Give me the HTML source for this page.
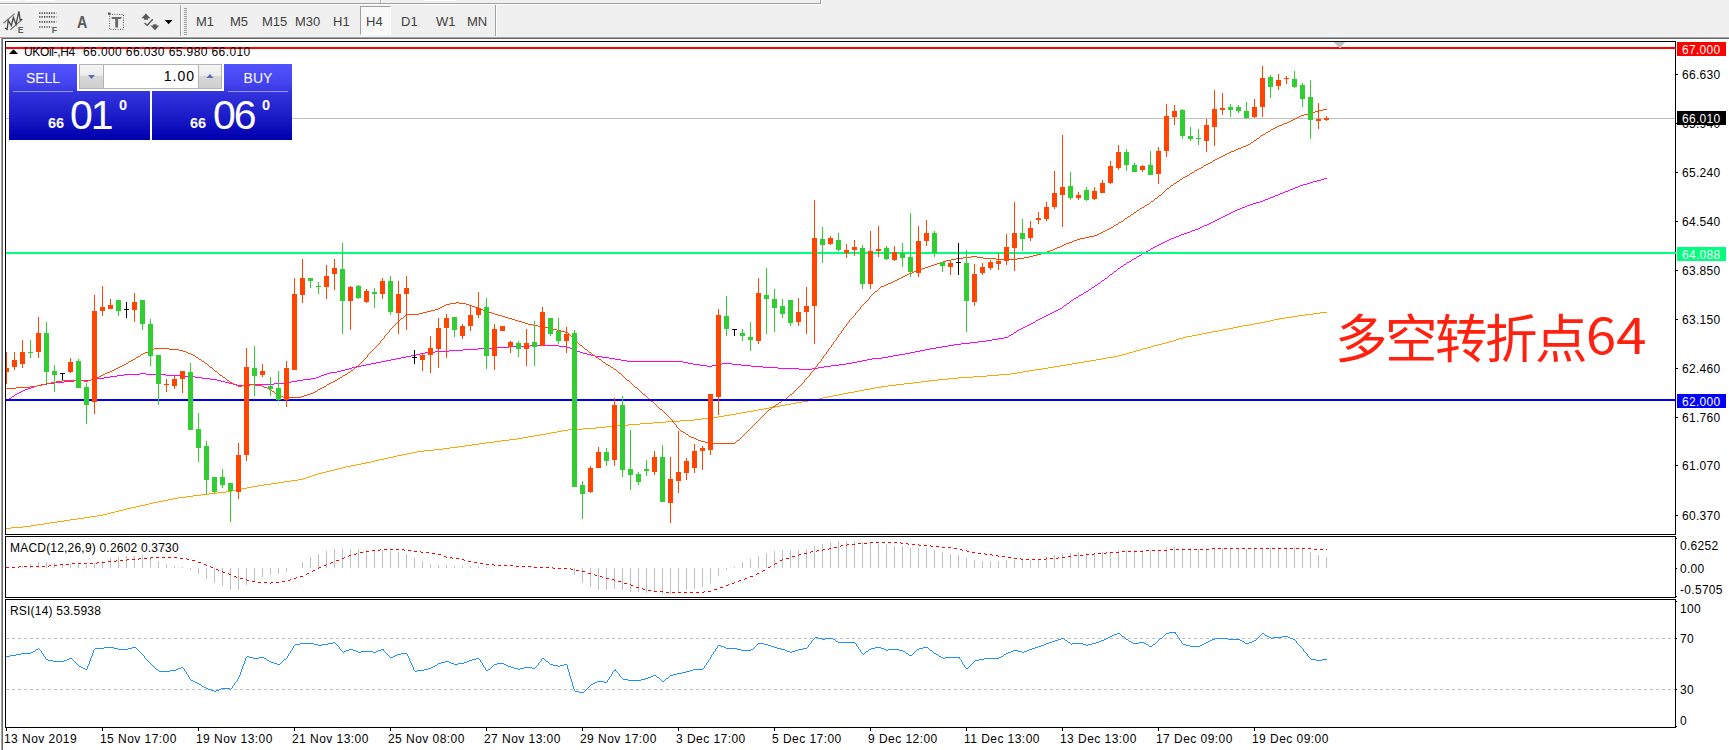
<!DOCTYPE html>
<html><head><meta charset="utf-8"><title>UKOil H4</title>
<style>
html,body{margin:0;padding:0;}
body{width:1729px;height:750px;overflow:hidden;background:#fff;position:relative;font-family:"Liberation Sans","Noto Sans CJK SC",sans-serif;font-size:12px;color:#000;}
#tb{position:absolute;left:0;top:0;width:1729px;height:37px;background:#f0f0f0;}
#tb .ln{position:absolute;}
.tf{position:absolute;top:15px;font-size:13px;color:#404040;line-height:14px;white-space:nowrap;}
#chart{position:absolute;left:0;top:0;}
.pt,.pl,.dt,.tx{position:absolute;white-space:nowrap;letter-spacing:0.3px;line-height:16px;height:16px;font-size:12px;}
.pt{left:1680px;}
.pl{left:1677px;width:44px;padding-left:5px;height:14px;line-height:16px;overflow:hidden;}
.dt{top:731px;letter-spacing:0.45px;}
.tx{letter-spacing:0.2px;}
#oct{position:absolute;left:9px;top:64px;width:283px;height:76px;}
</style></head>
<body>
<div id="tb">
 <div class="ln" style="left:0;top:3px;width:821px;height:1px;background:#a0a0a0"></div>
 <div class="ln" style="left:0;top:4px;width:822px;height:1px;background:#fff"></div>
 <div class="ln" style="left:820px;top:0;width:1px;height:4px;background:#a0a0a0"></div>
 <div class="ln" style="left:821px;top:0;width:1px;height:5px;background:#fff"></div>
 <div class="ln" style="left:0;top:0;width:20px;height:1px;background:#fff"></div>
 <div class="ln" style="left:25px;top:0;width:30px;height:1px;background:#fff"></div>
 <div class="ln" style="left:380px;top:0;width:1px;height:3px;background:#a0a0a0"></div>
 <div class="ln" style="left:381px;top:0;width:1px;height:3px;background:#fff"></div>
 <div class="ln" style="left:424px;top:0;width:32px;height:1px;background:#fff"></div>
 <div class="ln" style="left:180px;top:5px;width:1px;height:32px;background:#a0a0a0"></div>
 <div class="ln" style="left:181px;top:5px;width:1px;height:32px;background:#fff"></div>
 <div class="ln" style="left:495px;top:5px;width:1px;height:32px;background:#a0a0a0"></div>
 <div class="ln" style="left:496px;top:5px;width:1px;height:32px;background:#fff"></div>
 <!-- grip -->
 <div class="ln" style="left:184px;top:8px;width:3px;height:27px;background:repeating-linear-gradient(to bottom,#a0a0a0 0,#a0a0a0 1px,#f0f0f0 1px,#f0f0f0 2px)"></div>
 <!-- H4 pressed -->
 <div class="ln" style="left:360px;top:6px;width:31px;height:29px;background:#f8f8f8;border-left:1px solid #a0a0a0;border-top:1px solid #a0a0a0;border-right:1px solid #fff;border-bottom:1px solid #fff;box-sizing:border-box"></div>
 <span class="tf" style="left:196px">M1</span>
 <span class="tf" style="left:230px">M5</span>
 <span class="tf" style="left:262px">M15</span>
 <span class="tf" style="left:295px">M30</span>
 <span class="tf" style="left:333px">H1</span>
 <span class="tf" style="left:366px">H4</span>
 <span class="tf" style="left:401px">D1</span>
 <span class="tf" style="left:436px">W1</span>
 <span class="tf" style="left:467px">MN</span>
 <svg class="ln" style="left:0;top:0" width="180" height="37" viewBox="0 0 180 37">
  <!-- icon1: channel E -->
  <g stroke="#7a7a7a" stroke-width="1.2" fill="none">
   <line x1="3.5" y1="23.3" x2="14.6" y2="13.6"/>
   <line x1="10.4" y1="29.7" x2="22.4" y2="19.2"/>
   <polyline points="4.9,28 7.2,29.4 8.2,20.3 11.3,25.5 13.4,17.5 16,24.4 18.9,11.4 20.2,20 22,19.2" stroke="#484848" stroke-width="1.3"/>
  </g>
  <text x="17.8" y="32.6" font-size="8.6" font-weight="bold" fill="#5a5a5a" font-family="Liberation Sans, sans-serif">E</text>
  <!-- icon2: fibo F -->
  <g stroke="#484848" stroke-width="1.6" stroke-dasharray="1.2 1.2">
   <line x1="39.2" y1="13.1" x2="56.3" y2="13.1"/>
   <line x1="39.2" y1="16.9" x2="56.3" y2="16.9"/>
   <line x1="39.2" y1="21.9" x2="56.3" y2="21.9"/>
   <line x1="39.2" y1="27" x2="51.5" y2="27"/>
  </g>
  <text x="51.8" y="32.6" font-size="8.6" font-weight="bold" fill="#5a5a5a" font-family="Liberation Sans, sans-serif">F</text>
  <!-- icon3: A -->
  <text transform="translate(76.9,27.5) scale(0.88,1)" font-size="16.2" font-weight="bold" fill="#5a5a5a" font-family="Liberation Sans, sans-serif">A</text>
  <!-- icon4: T label -->
  <rect x="109.6" y="14.4" width="13.8" height="15" fill="none" stroke="#5a5a5a" stroke-width="1" stroke-dasharray="1 1.4"/>
  <rect x="108" y="12.5" width="2.6" height="2.2" fill="#5a5a5a"/>
  <rect x="111.7" y="17" width="9.6" height="2" fill="#6a6a6a"/>
  <rect x="115.2" y="17" width="2.9" height="10.5" fill="#6a6a6a"/>
  <!-- icon5: arrows -->
  <polygon points="145.9,13.6 150.4,18.2 148,18.2 148,19.8 143.9,19.8 143.9,18.2 141.4,18.2" fill="#5a5a5a"/>
  <polyline points="144.5,22.9 147.2,25.3 152.8,19.2" fill="none" stroke="#5a5a5a" stroke-width="1.4"/>
  <polygon points="154.9,30.2 150.5,25.4 153.2,25.4 153.2,24.3 156.6,24.3 156.6,25.4 159.4,25.4" fill="#5a5a5a"/>
  <polygon points="164.8,20 172.4,20 168.6,24.2" fill="#000"/>
 </svg>
</div>
<!-- toolbar bottom edge -->
<div style="position:absolute;left:0;top:36px;width:1729px;height:1px;background:#f6f6f6"></div>
<div style="position:absolute;left:0;top:37px;width:1729px;height:1px;background:#a0a0a0"></div>
<div style="position:absolute;left:1px;top:38px;width:1728px;height:1px;background:#696969"></div>
<!-- left window edge -->
<div style="position:absolute;left:0;top:38px;width:1px;height:712px;background:#fff"></div>
<div style="position:absolute;left:1px;top:38px;width:1px;height:712px;background:#a0a0a0"></div>
<div style="position:absolute;left:2px;top:39px;width:1px;height:711px;background:#696969"></div>

<svg id="chart" width="1729" height="750" viewBox="0 0 1729 750" shape-rendering="crispEdges">
<rect x="6" y="118" width="1669" height="1" fill="#c0c0c0"/>
<path d="M6.5 528v1M7.5 528v1M8.5 528v1M9.5 528v1M10.5 528v1M11.5 527v1M12.5 527v1M13.5 527v1M14.5 527v1M15.5 527v1M16.5 527v1M17.5 527v1M18.5 527v1M19.5 527v1M20.5 527v1M21.5 527v1M22.5 527v1M23.5 526v1M24.5 526v1M25.5 526v1M26.5 526v1M27.5 526v1M28.5 526v1M29.5 526v1M30.5 526v1M31.5 525v1M32.5 525v1M33.5 525v1M34.5 525v1M35.5 525v1M36.5 525v1M37.5 524v1M38.5 524v1M39.5 524v1M40.5 524v1M41.5 524v1M42.5 524v1M43.5 524v1M44.5 523v1M45.5 523v1M46.5 523v1M47.5 523v1M48.5 523v1M49.5 523v1M50.5 522v1M51.5 522v1M52.5 522v1M53.5 522v1M54.5 522v1M55.5 522v1M56.5 522v1M57.5 521v1M58.5 521v1M59.5 521v1M60.5 521v1M61.5 521v1M62.5 521v1M63.5 521v1M64.5 520v1M65.5 520v1M66.5 520v1M67.5 520v1M68.5 520v1M69.5 520v1M70.5 519v1M71.5 519v1M72.5 519v1M73.5 519v1M74.5 519v1M75.5 519v1M76.5 519v1M77.5 518v1M78.5 518v1M79.5 518v1M80.5 518v1M81.5 518v1M82.5 518v1M83.5 518v1M84.5 517v1M85.5 517v1M86.5 517v1M87.5 517v1M88.5 517v1M89.5 517v1M90.5 516v1M91.5 516v1M92.5 516v1M93.5 516v1M94.5 516v1M95.5 516v1M96.5 516v1M97.5 515v1M98.5 515v1M99.5 515v1M100.5 515v1M101.5 515v1M102.5 515v1M103.5 514v1M104.5 514v1M105.5 514v1M106.5 514v1M107.5 513v1M108.5 513v1M109.5 513v1M110.5 513v1M111.5 512v1M112.5 512v1M113.5 512v1M114.5 512v1M115.5 511v1M116.5 511v1M117.5 511v1M118.5 511v1M119.5 510v1M120.5 510v1M121.5 510v1M122.5 510v1M123.5 509v1M124.5 509v1M125.5 509v1M126.5 509v1M127.5 508v1M128.5 508v1M129.5 508v1M130.5 508v1M131.5 507v1M132.5 507v1M133.5 507v1M134.5 507v1M135.5 507v1M136.5 506v1M137.5 506v1M138.5 506v1M139.5 506v1M140.5 505v1M141.5 505v1M142.5 505v1M143.5 505v1M144.5 505v1M145.5 504v1M146.5 504v1M147.5 504v1M148.5 504v1M149.5 503v1M150.5 503v1M151.5 503v1M152.5 503v1M153.5 502v1M154.5 502v1M155.5 502v1M156.5 502v1M157.5 502v1M158.5 501v1M159.5 501v1M160.5 501v1M161.5 501v1M162.5 501v1M163.5 500v1M164.5 500v1M165.5 500v1M166.5 500v1M167.5 500v1M168.5 499v1M169.5 499v1M170.5 499v1M171.5 499v1M172.5 499v1M173.5 498v1M174.5 498v1M175.5 498v1M176.5 498v1M177.5 498v1M178.5 497v1M179.5 497v1M180.5 497v1M181.5 497v1M182.5 497v1M183.5 497v1M184.5 497v1M185.5 497v1M186.5 496v1M187.5 496v1M188.5 496v1M189.5 496v1M190.5 496v1M191.5 496v1M192.5 496v1M193.5 495v1M194.5 495v1M195.5 495v1M196.5 495v1M197.5 495v1M198.5 495v1M199.5 495v1M200.5 495v1M201.5 494v1M202.5 494v1M203.5 494v1M204.5 494v1M205.5 494v1M206.5 494v1M207.5 494v1M208.5 494v1M209.5 493v1M210.5 493v1M211.5 493v1M212.5 493v1M213.5 493v1M214.5 493v1M215.5 493v1M216.5 493v1M217.5 492v1M218.5 492v1M219.5 492v1M220.5 492v1M221.5 492v1M222.5 492v1M223.5 492v1M224.5 492v1M225.5 492v1M226.5 491v1M227.5 491v1M228.5 491v1M229.5 491v1M230.5 491v1M231.5 491v1M232.5 490v1M233.5 490v1M234.5 490v1M235.5 490v1M236.5 490v1M237.5 489v1M238.5 489v1M239.5 489v1M240.5 489v1M241.5 489v1M242.5 488v1M243.5 488v1M244.5 488v1M245.5 488v1M246.5 488v1M247.5 487v1M248.5 487v1M249.5 487v1M250.5 487v1M251.5 487v1M252.5 486v1M253.5 486v1M254.5 486v1M255.5 486v1M256.5 486v1M257.5 486v1M258.5 485v1M259.5 485v1M260.5 485v1M261.5 485v1M262.5 485v1M263.5 485v1M264.5 484v1M265.5 484v1M266.5 484v1M267.5 484v1M268.5 484v1M269.5 484v1M270.5 484v1M271.5 483v1M272.5 483v1M273.5 483v1M274.5 483v1M275.5 483v1M276.5 483v1M277.5 483v1M278.5 482v1M279.5 482v1M280.5 482v1M281.5 482v1M282.5 482v1M283.5 482v1M284.5 481v1M285.5 481v1M286.5 481v1M287.5 481v1M288.5 481v1M289.5 481v1M290.5 481v1M291.5 480v1M292.5 480v1M293.5 480v1M294.5 480v1M295.5 480v1M296.5 480v1M297.5 480v1M298.5 479v1M299.5 479v1M300.5 479v1M301.5 479v1M302.5 479v1M303.5 478v1M304.5 478v1M305.5 478v1M306.5 477v1M307.5 477v1M308.5 477v1M309.5 476v1M310.5 476v1M311.5 476v1M312.5 475v1M313.5 475v1M314.5 475v1M315.5 474v1M316.5 474v1M317.5 474v1M318.5 473v1M319.5 473v1M320.5 473v1M321.5 473v1M322.5 472v1M323.5 472v1M324.5 472v1M325.5 472v1M326.5 471v1M327.5 471v1M328.5 471v1M329.5 471v1M330.5 470v1M331.5 470v1M332.5 470v1M333.5 470v1M334.5 469v1M335.5 469v1M336.5 469v1M337.5 469v1M338.5 468v1M339.5 468v1M340.5 468v1M341.5 468v1M342.5 467v1M343.5 467v1M344.5 467v1M345.5 467v1M346.5 466v1M347.5 466v1M348.5 466v1M349.5 466v1M350.5 466v1M351.5 465v1M352.5 465v1M353.5 465v1M354.5 465v1M355.5 465v1M356.5 464v1M357.5 464v1M358.5 464v1M359.5 464v1M360.5 464v1M361.5 463v1M362.5 463v1M363.5 463v1M364.5 463v1M365.5 463v1M366.5 462v1M367.5 462v1M368.5 462v1M369.5 462v1M370.5 462v1M371.5 461v1M372.5 461v1M373.5 461v1M374.5 461v1M375.5 460v1M376.5 460v1M377.5 460v1M378.5 460v1M379.5 459v1M380.5 459v1M381.5 459v1M382.5 459v1M383.5 459v1M384.5 458v1M385.5 458v1M386.5 458v1M387.5 458v1M388.5 457v1M389.5 457v1M390.5 457v1M391.5 457v1M392.5 457v1M393.5 456v1M394.5 456v1M395.5 456v1M396.5 456v1M397.5 455v1M398.5 455v1M399.5 455v1M400.5 455v1M401.5 455v1M402.5 454v1M403.5 454v1M404.5 454v1M405.5 454v1M406.5 454v1M407.5 453v1M408.5 453v1M409.5 453v1M410.5 453v1M411.5 453v1M412.5 452v1M413.5 452v1M414.5 452v1M415.5 452v1M416.5 452v1M417.5 451v1M418.5 451v1M419.5 451v1M420.5 451v1M421.5 451v1M422.5 451v1M423.5 451v1M424.5 450v1M425.5 450v1M426.5 450v1M427.5 450v1M428.5 450v1M429.5 450v1M430.5 450v1M431.5 450v1M432.5 450v1M433.5 450v1M434.5 449v1M435.5 449v1M436.5 449v1M437.5 449v1M438.5 449v1M439.5 449v1M440.5 449v1M441.5 449v1M442.5 449v1M443.5 448v1M444.5 448v1M445.5 448v1M446.5 448v1M447.5 448v1M448.5 448v1M449.5 448v1M450.5 447v1M451.5 447v1M452.5 447v1M453.5 447v1M454.5 447v1M455.5 447v1M456.5 447v1M457.5 447v1M458.5 446v1M459.5 446v1M460.5 446v1M461.5 446v1M462.5 446v1M463.5 446v1M464.5 446v1M465.5 445v1M466.5 445v1M467.5 445v1M468.5 445v1M469.5 445v1M470.5 445v1M471.5 445v1M472.5 444v1M473.5 444v1M474.5 444v1M475.5 444v1M476.5 444v1M477.5 444v1M478.5 444v1M479.5 443v1M480.5 443v1M481.5 443v1M482.5 443v1M483.5 443v1M484.5 443v1M485.5 443v1M486.5 442v1M487.5 442v1M488.5 442v1M489.5 442v1M490.5 442v1M491.5 442v1M492.5 442v1M493.5 442v1M494.5 441v1M495.5 441v1M496.5 441v1M497.5 441v1M498.5 441v1M499.5 441v1M500.5 441v1M501.5 440v1M502.5 440v1M503.5 440v1M504.5 440v1M505.5 440v1M506.5 440v1M507.5 440v1M508.5 440v1M509.5 439v1M510.5 439v1M511.5 439v1M512.5 439v1M513.5 439v1M514.5 439v1M515.5 439v1M516.5 439v1M517.5 438v1M518.5 438v1M519.5 438v1M520.5 438v1M521.5 438v1M522.5 438v1M523.5 437v1M524.5 437v1M525.5 437v1M526.5 437v1M527.5 437v1M528.5 436v1M529.5 436v1M530.5 436v1M531.5 436v1M532.5 436v1M533.5 436v1M534.5 435v1M535.5 435v1M536.5 435v1M537.5 435v1M538.5 435v1M539.5 435v1M540.5 434v1M541.5 434v1M542.5 434v1M543.5 434v1M544.5 434v1M545.5 434v1M546.5 433v1M547.5 433v1M548.5 433v1M549.5 433v1M550.5 433v1M551.5 432v1M552.5 432v1M553.5 432v1M554.5 432v1M555.5 432v1M556.5 432v1M557.5 431v1M558.5 431v1M559.5 431v1M560.5 431v1M561.5 431v1M562.5 430v1M563.5 430v1M564.5 430v1M565.5 430v1M566.5 430v1M567.5 430v1M568.5 429v1M569.5 429v1M570.5 429v1M571.5 429v1M572.5 429v1M573.5 429v1M574.5 429v1M575.5 429v1M576.5 429v1M577.5 429v1M578.5 429v1M579.5 429v1M580.5 429v1M581.5 429v1M582.5 429v1M583.5 428v1M584.5 428v1M585.5 428v1M586.5 428v1M587.5 428v1M588.5 428v1M589.5 428v1M590.5 428v1M591.5 428v1M592.5 428v1M593.5 428v1M594.5 428v1M595.5 428v1M596.5 427v1M597.5 427v1M598.5 427v1M599.5 427v1M600.5 427v1M601.5 427v1M602.5 427v1M603.5 427v1M604.5 427v1M605.5 427v1M606.5 426v1M607.5 426v1M608.5 426v1M609.5 426v1M610.5 426v1M611.5 426v1M612.5 426v1M613.5 426v1M614.5 426v1M615.5 426v1M616.5 425v1M617.5 425v1M618.5 425v1M619.5 425v1M620.5 425v1M621.5 425v1M622.5 425v1M623.5 425v1M624.5 425v1M625.5 425v1M626.5 425v1M627.5 425v1M628.5 424v1M629.5 424v1M630.5 424v1M631.5 424v1M632.5 424v1M633.5 424v1M634.5 424v1M635.5 424v1M636.5 424v1M637.5 424v1M638.5 424v1M639.5 424v1M640.5 423v1M641.5 423v1M642.5 423v1M643.5 423v1M644.5 423v1M645.5 423v1M646.5 423v1M647.5 423v1M648.5 423v1M649.5 423v1M650.5 423v1M651.5 423v1M652.5 423v1M653.5 422v1M654.5 422v1M655.5 422v1M656.5 422v1M657.5 422v1M658.5 422v1M659.5 422v1M660.5 422v1M661.5 422v1M662.5 422v1M663.5 422v1M664.5 422v1M665.5 422v1M666.5 421v1M667.5 421v1M668.5 421v1M669.5 421v1M670.5 421v1M671.5 421v1M672.5 421v1M673.5 421v1M674.5 421v1M675.5 421v1M676.5 421v1M677.5 421v1M678.5 421v1M679.5 421v1M680.5 420v1M681.5 420v1M682.5 420v1M683.5 420v1M684.5 420v1M685.5 420v1M686.5 420v1M687.5 420v1M688.5 420v1M689.5 420v1M690.5 420v1M691.5 420v1M692.5 420v1M693.5 420v1M694.5 419v1M695.5 419v1M696.5 419v1M697.5 419v1M698.5 419v1M699.5 419v1M700.5 419v1M701.5 419v1M702.5 418v1M703.5 418v1M704.5 418v1M705.5 418v1M706.5 418v1M707.5 418v1M708.5 418v1M709.5 418v1M710.5 417v1M711.5 417v1M712.5 417v1M713.5 417v1M714.5 417v1M715.5 417v1M716.5 417v1M717.5 417v1M718.5 416v1M719.5 416v1M720.5 416v1M721.5 416v1M722.5 416v1M723.5 416v1M724.5 415v1M725.5 415v1M726.5 415v1M727.5 415v1M728.5 415v1M729.5 415v1M730.5 414v1M731.5 414v1M732.5 414v1M733.5 414v1M734.5 414v1M735.5 414v1M736.5 413v1M737.5 413v1M738.5 413v1M739.5 413v1M740.5 413v1M741.5 412v1M742.5 412v1M743.5 412v1M744.5 412v1M745.5 412v1M746.5 412v1M747.5 411v1M748.5 411v1M749.5 411v1M750.5 411v1M751.5 411v1M752.5 411v1M753.5 410v1M754.5 410v1M755.5 410v1M756.5 410v1M757.5 410v1M758.5 409v1M759.5 409v1M760.5 409v1M761.5 409v1M762.5 409v1M763.5 409v1M764.5 408v1M765.5 408v1M766.5 408v1M767.5 408v1M768.5 408v1M769.5 407v1M770.5 407v1M771.5 407v1M772.5 407v1M773.5 407v1M774.5 407v1M775.5 406v1M776.5 406v1M777.5 406v1M778.5 406v1M779.5 406v1M780.5 405v1M781.5 405v1M782.5 405v1M783.5 405v1M784.5 405v1M785.5 404v1M786.5 404v1M787.5 404v1M788.5 404v1M789.5 404v1M790.5 404v1M791.5 403v1M792.5 403v1M793.5 403v1M794.5 403v1M795.5 403v1M796.5 402v1M797.5 402v1M798.5 402v1M799.5 402v1M800.5 402v1M801.5 402v1M802.5 401v1M803.5 401v1M804.5 401v1M805.5 401v1M806.5 401v1M807.5 401v1M808.5 400v1M809.5 400v1M810.5 400v1M811.5 400v1M812.5 400v1M813.5 400v1M814.5 399v1M815.5 399v1M816.5 399v1M817.5 399v1M818.5 399v1M819.5 398v1M820.5 398v1M821.5 398v1M822.5 398v1M823.5 397v1M824.5 397v1M825.5 397v1M826.5 397v1M827.5 397v1M828.5 396v1M829.5 396v1M830.5 396v1M831.5 396v1M832.5 396v1M833.5 395v1M834.5 395v1M835.5 395v1M836.5 395v1M837.5 395v1M838.5 394v1M839.5 394v1M840.5 394v1M841.5 394v1M842.5 394v1M843.5 393v1M844.5 393v1M845.5 393v1M846.5 393v1M847.5 393v1M848.5 392v1M849.5 392v1M850.5 392v1M851.5 392v1M852.5 392v1M853.5 392v1M854.5 391v1M855.5 391v1M856.5 391v1M857.5 391v1M858.5 391v1M859.5 390v1M860.5 390v1M861.5 390v1M862.5 390v1M863.5 390v1M864.5 389v1M865.5 389v1M866.5 389v1M867.5 389v1M868.5 389v1M869.5 389v1M870.5 388v1M871.5 388v1M872.5 388v1M873.5 388v1M874.5 388v1M875.5 387v1M876.5 387v1M877.5 387v1M878.5 387v1M879.5 387v1M880.5 387v1M881.5 386v1M882.5 386v1M883.5 386v1M884.5 386v1M885.5 386v1M886.5 386v1M887.5 386v1M888.5 385v1M889.5 385v1M890.5 385v1M891.5 385v1M892.5 385v1M893.5 385v1M894.5 385v1M895.5 385v1M896.5 384v1M897.5 384v1M898.5 384v1M899.5 384v1M900.5 384v1M901.5 384v1M902.5 384v1M903.5 384v1M904.5 383v1M905.5 383v1M906.5 383v1M907.5 383v1M908.5 383v1M909.5 383v1M910.5 383v1M911.5 383v1M912.5 383v1M913.5 382v1M914.5 382v1M915.5 382v1M916.5 382v1M917.5 382v1M918.5 382v1M919.5 382v1M920.5 382v1M921.5 381v1M922.5 381v1M923.5 381v1M924.5 381v1M925.5 381v1M926.5 381v1M927.5 381v1M928.5 381v1M929.5 380v1M930.5 380v1M931.5 380v1M932.5 380v1M933.5 380v1M934.5 380v1M935.5 380v1M936.5 380v1M937.5 380v1M938.5 379v1M939.5 379v1M940.5 379v1M941.5 379v1M942.5 379v1M943.5 379v1M944.5 379v1M945.5 379v1M946.5 379v1M947.5 379v1M948.5 378v1M949.5 378v1M950.5 378v1M951.5 378v1M952.5 378v1M953.5 378v1M954.5 378v1M955.5 378v1M956.5 378v1M957.5 378v1M958.5 377v1M959.5 377v1M960.5 377v1M961.5 377v1M962.5 377v1M963.5 377v1M964.5 377v1M965.5 377v1M966.5 377v1M967.5 377v1M968.5 377v1M969.5 377v1M970.5 377v1M971.5 377v1M972.5 377v1M973.5 376v1M974.5 376v1M975.5 376v1M976.5 376v1M977.5 376v1M978.5 376v1M979.5 376v1M980.5 376v1M981.5 376v1M982.5 376v1M983.5 376v1M984.5 376v1M985.5 376v1M986.5 376v1M987.5 375v1M988.5 375v1M989.5 375v1M990.5 375v1M991.5 375v1M992.5 375v1M993.5 375v1M994.5 375v1M995.5 375v1M996.5 375v1M997.5 375v1M998.5 375v1M999.5 374v1M1000.5 374v1M1001.5 374v1M1002.5 374v1M1003.5 374v1M1004.5 374v1M1005.5 374v1M1006.5 374v1M1007.5 374v1M1008.5 374v1M1009.5 374v1M1010.5 374v1M1011.5 373v1M1012.5 373v1M1013.5 373v1M1014.5 373v1M1015.5 373v1M1016.5 373v1M1017.5 372v1M1018.5 372v1M1019.5 372v1M1020.5 372v1M1021.5 372v1M1022.5 372v1M1023.5 371v1M1024.5 371v1M1025.5 371v1M1026.5 371v1M1027.5 371v1M1028.5 371v1M1029.5 370v1M1030.5 370v1M1031.5 370v1M1032.5 370v1M1033.5 370v1M1034.5 370v1M1035.5 369v1M1036.5 369v1M1037.5 369v1M1038.5 369v1M1039.5 369v1M1040.5 369v1M1041.5 369v1M1042.5 368v1M1043.5 368v1M1044.5 368v1M1045.5 368v1M1046.5 368v1M1047.5 368v1M1048.5 367v1M1049.5 367v1M1050.5 367v1M1051.5 367v1M1052.5 367v1M1053.5 367v1M1054.5 366v1M1055.5 366v1M1056.5 366v1M1057.5 366v1M1058.5 366v1M1059.5 366v1M1060.5 365v1M1061.5 365v1M1062.5 365v1M1063.5 365v1M1064.5 365v1M1065.5 365v1M1066.5 364v1M1067.5 364v1M1068.5 364v1M1069.5 364v1M1070.5 364v1M1071.5 364v1M1072.5 363v1M1073.5 363v1M1074.5 363v1M1075.5 363v1M1076.5 363v1M1077.5 363v1M1078.5 362v1M1079.5 362v1M1080.5 362v1M1081.5 362v1M1082.5 362v1M1083.5 362v1M1084.5 361v1M1085.5 361v1M1086.5 361v1M1087.5 361v1M1088.5 361v1M1089.5 361v1M1090.5 360v1M1091.5 360v1M1092.5 360v1M1093.5 360v1M1094.5 360v1M1095.5 360v1M1096.5 359v1M1097.5 359v1M1098.5 359v1M1099.5 359v1M1100.5 359v1M1101.5 359v1M1102.5 358v1M1103.5 358v1M1104.5 358v1M1105.5 358v1M1106.5 358v1M1107.5 357v1M1108.5 357v1M1109.5 357v1M1110.5 357v1M1111.5 357v1M1112.5 357v1M1113.5 356v1M1114.5 356v1M1115.5 356v1M1116.5 356v1M1117.5 356v1M1118.5 355v1M1119.5 355v1M1120.5 355v1M1121.5 355v1M1122.5 354v1M1123.5 354v1M1124.5 354v1M1125.5 354v1M1126.5 353v1M1127.5 353v1M1128.5 353v1M1129.5 352v1M1130.5 352v1M1131.5 352v1M1132.5 352v1M1133.5 351v1M1134.5 351v1M1135.5 351v1M1136.5 350v1M1137.5 350v1M1138.5 350v1M1139.5 350v1M1140.5 349v1M1141.5 349v1M1142.5 349v1M1143.5 348v1M1144.5 348v1M1145.5 348v1M1146.5 348v1M1147.5 347v1M1148.5 347v1M1149.5 347v1M1150.5 347v1M1151.5 346v1M1152.5 346v1M1153.5 346v1M1154.5 345v1M1155.5 345v1M1156.5 345v1M1157.5 345v1M1158.5 344v1M1159.5 344v1M1160.5 344v1M1161.5 344v1M1162.5 343v1M1163.5 343v1M1164.5 343v1M1165.5 343v1M1166.5 342v1M1167.5 342v1M1168.5 342v1M1169.5 341v1M1170.5 341v1M1171.5 341v1M1172.5 341v1M1173.5 340v1M1174.5 340v1M1175.5 340v1M1176.5 339v1M1177.5 339v1M1178.5 339v1M1179.5 338v1M1180.5 338v1M1181.5 338v1M1182.5 338v1M1183.5 337v1M1184.5 337v1M1185.5 337v1M1186.5 336v1M1187.5 336v1M1188.5 336v1M1189.5 336v1M1190.5 336v1M1191.5 336v1M1192.5 335v1M1193.5 335v1M1194.5 335v1M1195.5 335v1M1196.5 335v1M1197.5 334v1M1198.5 334v1M1199.5 334v1M1200.5 334v1M1201.5 334v1M1202.5 333v1M1203.5 333v1M1204.5 333v1M1205.5 333v1M1206.5 333v1M1207.5 332v1M1208.5 332v1M1209.5 332v1M1210.5 332v1M1211.5 332v1M1212.5 331v1M1213.5 331v1M1214.5 331v1M1215.5 331v1M1216.5 331v1M1217.5 331v1M1218.5 330v1M1219.5 330v1M1220.5 330v1M1221.5 330v1M1222.5 330v1M1223.5 329v1M1224.5 329v1M1225.5 329v1M1226.5 329v1M1227.5 329v1M1228.5 328v1M1229.5 328v1M1230.5 328v1M1231.5 328v1M1232.5 328v1M1233.5 327v1M1234.5 327v1M1235.5 327v1M1236.5 327v1M1237.5 327v1M1238.5 326v1M1239.5 326v1M1240.5 326v1M1241.5 326v1M1242.5 326v1M1243.5 325v1M1244.5 325v1M1245.5 325v1M1246.5 325v1M1247.5 325v1M1248.5 325v1M1249.5 324v1M1250.5 324v1M1251.5 324v1M1252.5 324v1M1253.5 324v1M1254.5 323v1M1255.5 323v1M1256.5 323v1M1257.5 323v1M1258.5 323v1M1259.5 323v1M1260.5 322v1M1261.5 322v1M1262.5 322v1M1263.5 322v1M1264.5 322v1M1265.5 321v1M1266.5 321v1M1267.5 321v1M1268.5 321v1M1269.5 321v1M1270.5 320v1M1271.5 320v1M1272.5 320v1M1273.5 320v1M1274.5 319v1M1275.5 319v1M1276.5 319v1M1277.5 319v1M1278.5 319v1M1279.5 318v1M1280.5 318v1M1281.5 318v1M1282.5 318v1M1283.5 318v1M1284.5 318v1M1285.5 317v1M1286.5 317v1M1287.5 317v1M1288.5 317v1M1289.5 317v1M1290.5 317v1M1291.5 317v1M1292.5 316v1M1293.5 316v1M1294.5 316v1M1295.5 316v1M1296.5 316v1M1297.5 316v1M1298.5 315v1M1299.5 315v1M1300.5 315v1M1301.5 315v1M1302.5 315v1M1303.5 315v1M1304.5 315v1M1305.5 314v1M1306.5 314v1M1307.5 314v1M1308.5 314v1M1309.5 314v1M1310.5 314v1M1311.5 314v1M1312.5 314v1M1313.5 313v1M1314.5 313v1M1315.5 313v1M1316.5 313v1M1317.5 313v1M1318.5 313v1M1319.5 313v1M1320.5 312v1M1321.5 312v1M1322.5 312v1M1323.5 312v1M1324.5 312v1M1325.5 312v1M1326.5 312v1" stroke="#ffa500" stroke-width="1" fill="none"/>
<path d="M6.5 400v1M7.5 399v1M8.5 399v1M9.5 398v1M10.5 398v1M11.5 397v1M12.5 396v1M13.5 396v1M14.5 395v1M15.5 394v1M16.5 394v1M17.5 393v1M18.5 393v1M19.5 392v1M20.5 392v1M21.5 391v1M22.5 391v1M23.5 390v1M24.5 390v1M25.5 389v1M26.5 389v1M27.5 389v1M28.5 388v1M29.5 388v1M30.5 388v1M31.5 387v1M32.5 387v1M33.5 387v1M34.5 386v1M35.5 386v1M36.5 386v1M37.5 385v1M38.5 385v1M39.5 385v1M40.5 385v1M41.5 384v1M42.5 384v1M43.5 384v1M44.5 384v1M45.5 384v1M46.5 384v1M47.5 383v1M48.5 383v1M49.5 383v1M50.5 383v1M51.5 383v1M52.5 383v1M53.5 383v1M54.5 382v1M55.5 382v1M56.5 382v1M57.5 382v1M58.5 382v1M59.5 382v1M60.5 382v1M61.5 382v1M62.5 382v1M63.5 382v1M64.5 381v1M65.5 381v1M66.5 381v1M67.5 381v1M68.5 381v1M69.5 381v1M70.5 381v1M71.5 381v1M72.5 381v1M73.5 381v1M74.5 380v1M75.5 380v1M76.5 380v1M77.5 380v1M78.5 380v1M79.5 380v1M80.5 380v1M81.5 380v1M82.5 380v1M83.5 380v1M84.5 380v1M85.5 380v1M86.5 380v1M87.5 380v1M88.5 380v1M89.5 380v1M90.5 380v1M91.5 379v1M92.5 379v1M93.5 379v1M94.5 379v1M95.5 379v1M96.5 379v1M97.5 378v1M98.5 378v1M99.5 378v1M100.5 378v1M101.5 378v1M102.5 378v1M103.5 378v1M104.5 377v1M105.5 377v1M106.5 377v1M107.5 377v1M108.5 377v1M109.5 377v1M110.5 376v1M111.5 376v1M112.5 376v1M113.5 376v1M114.5 376v1M115.5 376v1M116.5 376v1M117.5 375v1M118.5 375v1M119.5 375v1M120.5 375v1M121.5 375v1M122.5 375v1M123.5 375v1M124.5 374v1M125.5 374v1M126.5 374v1M127.5 374v1M128.5 374v1M129.5 374v1M130.5 374v1M131.5 374v1M132.5 374v1M133.5 374v1M134.5 374v1M135.5 374v1M136.5 374v1M137.5 374v1M138.5 374v1M139.5 374v1M140.5 373v1M141.5 373v1M142.5 373v1M143.5 373v1M144.5 373v1M145.5 373v1M146.5 374v1M147.5 374v1M148.5 374v1M149.5 374v1M150.5 374v1M151.5 374v1M152.5 374v1M153.5 374v1M154.5 374v1M155.5 374v1M156.5 374v1M157.5 374v1M158.5 374v1M159.5 374v1M160.5 374v1M161.5 374v1M162.5 374v1M163.5 374v1M164.5 374v1M165.5 374v1M166.5 375v1M167.5 375v1M168.5 375v1M169.5 375v1M170.5 375v1M171.5 375v1M172.5 375v1M173.5 375v1M174.5 375v1M175.5 375v1M176.5 375v1M177.5 375v1M178.5 375v1M179.5 375v1M180.5 375v1M181.5 375v1M182.5 375v1M183.5 376v1M184.5 376v1M185.5 376v1M186.5 376v1M187.5 376v1M188.5 376v1M189.5 376v1M190.5 376v1M191.5 376v1M192.5 376v1M193.5 376v1M194.5 376v1M195.5 377v1M196.5 377v1M197.5 377v1M198.5 377v1M199.5 377v1M200.5 377v1M201.5 377v1M202.5 378v1M203.5 378v1M204.5 378v1M205.5 378v1M206.5 378v1M207.5 378v1M208.5 378v1M209.5 378v1M210.5 379v1M211.5 379v1M212.5 379v1M213.5 379v1M214.5 379v1M215.5 379v1M216.5 379v1M217.5 380v1M218.5 380v1M219.5 380v1M220.5 380v1M221.5 381v1M222.5 381v1M223.5 381v1M224.5 381v1M225.5 382v1M226.5 382v1M227.5 382v1M228.5 382v1M229.5 383v1M230.5 383v1M231.5 383v1M232.5 383v1M233.5 384v1M234.5 384v1M235.5 384v1M236.5 384v1M237.5 385v1M238.5 385v1M239.5 385v1M240.5 385v1M241.5 385v1M242.5 385v1M243.5 385v1M244.5 385v1M245.5 385v1M246.5 385v1M247.5 385v1M248.5 385v1M249.5 385v1M250.5 384v1M251.5 384v1M252.5 384v1M253.5 384v1M254.5 384v1M255.5 384v1M256.5 384v1M257.5 384v1M258.5 384v1M259.5 384v1M260.5 384v1M261.5 384v1M262.5 384v1M263.5 384v1M264.5 384v1M265.5 384v1M266.5 384v1M267.5 384v1M268.5 384v1M269.5 384v1M270.5 384v1M271.5 384v1M272.5 384v1M273.5 384v1M274.5 383v1M275.5 383v1M276.5 383v1M277.5 383v1M278.5 383v1M279.5 383v1M280.5 383v1M281.5 383v1M282.5 383v1M283.5 383v1M284.5 383v1M285.5 382v1M286.5 382v1M287.5 382v1M288.5 382v1M289.5 382v1M290.5 382v1M291.5 381v1M292.5 381v1M293.5 381v1M294.5 381v1M295.5 381v1M296.5 381v1M297.5 380v1M298.5 380v1M299.5 380v1M300.5 380v1M301.5 380v1M302.5 380v1M303.5 379v1M304.5 379v1M305.5 379v1M306.5 379v1M307.5 379v1M308.5 379v1M309.5 379v1M310.5 379v1M311.5 378v1M312.5 378v1M313.5 378v1M314.5 378v1M315.5 378v1M316.5 377v1M317.5 377v1M318.5 377v1M319.5 376v1M320.5 376v1M321.5 375v1M322.5 375v1M323.5 375v1M324.5 374v1M325.5 374v1M326.5 374v1M327.5 373v1M328.5 373v1M329.5 373v1M330.5 372v1M331.5 372v1M332.5 372v1M333.5 372v1M334.5 372v1M335.5 372v1M336.5 372v1M337.5 371v1M338.5 371v1M339.5 371v1M340.5 371v1M341.5 370v1M342.5 370v1M343.5 370v1M344.5 370v1M345.5 369v1M346.5 369v1M347.5 369v1M348.5 369v1M349.5 368v1M350.5 368v1M351.5 368v1M352.5 367v1M353.5 367v1M354.5 367v1M355.5 367v1M356.5 366v1M357.5 366v1M358.5 366v1M359.5 366v1M360.5 366v1M361.5 365v1M362.5 365v1M363.5 365v1M364.5 365v1M365.5 365v1M366.5 364v1M367.5 364v1M368.5 364v1M369.5 364v1M370.5 364v1M371.5 363v1M372.5 363v1M373.5 363v1M374.5 363v1M375.5 363v1M376.5 362v1M377.5 362v1M378.5 362v1M379.5 362v1M380.5 362v1M381.5 361v1M382.5 361v1M383.5 361v1M384.5 361v1M385.5 361v1M386.5 360v1M387.5 360v1M388.5 360v1M389.5 360v1M390.5 360v1M391.5 359v1M392.5 359v1M393.5 359v1M394.5 359v1M395.5 359v1M396.5 358v1M397.5 358v1M398.5 358v1M399.5 358v1M400.5 358v1M401.5 357v1M402.5 357v1M403.5 357v1M404.5 357v1M405.5 357v1M406.5 356v1M407.5 356v1M408.5 356v1M409.5 356v1M410.5 356v1M411.5 355v1M412.5 355v1M413.5 355v1M414.5 355v1M415.5 355v1M416.5 354v1M417.5 354v1M418.5 354v1M419.5 354v1M420.5 353v1M421.5 353v1M422.5 353v1M423.5 353v1M424.5 353v1M425.5 352v1M426.5 352v1M427.5 352v1M428.5 352v1M429.5 352v1M430.5 352v1M431.5 352v1M432.5 352v1M433.5 352v1M434.5 352v1M435.5 351v1M436.5 351v1M437.5 351v1M438.5 351v1M439.5 351v1M440.5 351v1M441.5 351v1M442.5 351v1M443.5 351v1M444.5 351v1M445.5 351v1M446.5 351v1M447.5 351v1M448.5 351v1M449.5 350v1M450.5 350v1M451.5 350v1M452.5 350v1M453.5 350v1M454.5 350v1M455.5 350v1M456.5 350v1M457.5 350v1M458.5 350v1M459.5 350v1M460.5 350v1M461.5 350v1M462.5 350v1M463.5 349v1M464.5 349v1M465.5 349v1M466.5 349v1M467.5 349v1M468.5 349v1M469.5 349v1M470.5 349v1M471.5 349v1M472.5 349v1M473.5 349v1M474.5 349v1M475.5 349v1M476.5 349v1M477.5 349v1M478.5 348v1M479.5 348v1M480.5 348v1M481.5 348v1M482.5 348v1M483.5 348v1M484.5 348v1M485.5 348v1M486.5 348v1M487.5 348v1M488.5 348v1M489.5 348v1M490.5 348v1M491.5 348v1M492.5 348v1M493.5 347v1M494.5 347v1M495.5 347v1M496.5 347v1M497.5 347v1M498.5 347v1M499.5 347v1M500.5 347v1M501.5 347v1M502.5 347v1M503.5 347v1M504.5 347v1M505.5 347v1M506.5 347v1M507.5 347v1M508.5 347v1M509.5 346v1M510.5 346v1M511.5 346v1M512.5 346v1M513.5 346v1M514.5 346v1M515.5 346v1M516.5 346v1M517.5 346v1M518.5 346v1M519.5 346v1M520.5 346v1M521.5 346v1M522.5 346v1M523.5 346v1M524.5 346v1M525.5 346v1M526.5 346v1M527.5 346v1M528.5 346v1M529.5 346v1M530.5 345v1M531.5 345v1M532.5 345v1M533.5 345v1M534.5 345v1M535.5 345v1M536.5 345v1M537.5 345v1M538.5 345v1M539.5 345v1M540.5 345v1M541.5 345v1M542.5 345v1M543.5 345v1M544.5 345v1M545.5 345v1M546.5 345v1M547.5 345v1M548.5 345v1M549.5 345v1M550.5 345v1M551.5 345v1M552.5 345v1M553.5 345v1M554.5 345v1M555.5 345v1M556.5 345v1M557.5 345v1M558.5 345v1M559.5 346v1M560.5 346v1M561.5 346v1M562.5 346v1M563.5 346v1M564.5 346v1M565.5 346v1M566.5 347v1M567.5 347v1M568.5 347v1M569.5 347v1M570.5 348v1M571.5 348v1M572.5 349v1M573.5 349v1M574.5 349v1M575.5 350v1M576.5 350v1M577.5 351v1M578.5 351v1M579.5 351v1M580.5 352v1M581.5 352v1M582.5 352v1M583.5 353v1M584.5 353v1M585.5 353v1M586.5 353v1M587.5 354v1M588.5 354v1M589.5 354v1M590.5 354v1M591.5 355v1M592.5 355v1M593.5 355v1M594.5 355v1M595.5 356v1M596.5 356v1M597.5 356v1M598.5 356v1M599.5 356v1M600.5 356v1M601.5 356v1M602.5 357v1M603.5 357v1M604.5 357v1M605.5 357v1M606.5 357v1M607.5 357v1M608.5 357v1M609.5 358v1M610.5 358v1M611.5 358v1M612.5 358v1M613.5 358v1M614.5 358v1M615.5 359v1M616.5 359v1M617.5 359v1M618.5 359v1M619.5 359v1M620.5 359v1M621.5 360v1M622.5 360v1M623.5 360v1M624.5 360v1M625.5 360v1M626.5 360v1M627.5 361v1M628.5 361v1M629.5 361v1M630.5 361v1M631.5 361v1M632.5 361v1M633.5 361v1M634.5 361v1M635.5 361v1M636.5 361v1M637.5 361v1M638.5 361v1M639.5 361v1M640.5 361v1M641.5 361v1M642.5 361v1M643.5 361v1M644.5 361v1M645.5 361v1M646.5 361v1M647.5 361v1M648.5 361v1M649.5 361v1M650.5 361v1M651.5 361v1M652.5 361v1M653.5 361v1M654.5 361v1M655.5 361v1M656.5 361v1M657.5 361v1M658.5 361v1M659.5 361v1M660.5 361v1M661.5 361v1M662.5 361v1M663.5 361v1M664.5 361v1M665.5 361v1M666.5 361v1M667.5 361v1M668.5 361v1M669.5 361v1M670.5 361v1M671.5 361v1M672.5 361v1M673.5 361v1M674.5 361v1M675.5 361v1M676.5 361v1M677.5 361v1M678.5 361v1M679.5 361v1M680.5 361v1M681.5 361v1M682.5 361v1M683.5 362v1M684.5 362v1M685.5 362v1M686.5 362v1M687.5 362v1M688.5 363v1M689.5 363v1M690.5 363v1M691.5 363v1M692.5 363v1M693.5 364v1M694.5 364v1M695.5 364v1M696.5 364v1M697.5 364v1M698.5 364v1M699.5 364v1M700.5 365v1M701.5 365v1M702.5 365v1M703.5 365v1M704.5 365v1M705.5 365v1M706.5 365v1M707.5 366v1M708.5 366v1M709.5 366v1M710.5 366v1M711.5 366v1M712.5 365v1M713.5 365v1M714.5 365v1M715.5 365v1M716.5 365v1M717.5 364v1M718.5 364v1M719.5 364v1M720.5 364v1M721.5 364v1M722.5 363v1M723.5 363v1M724.5 363v1M725.5 363v1M726.5 363v1M727.5 363v1M728.5 363v1M729.5 363v1M730.5 363v1M731.5 363v1M732.5 364v1M733.5 364v1M734.5 364v1M735.5 364v1M736.5 364v1M737.5 364v1M738.5 364v1M739.5 364v1M740.5 364v1M741.5 365v1M742.5 365v1M743.5 365v1M744.5 365v1M745.5 365v1M746.5 365v1M747.5 365v1M748.5 365v1M749.5 365v1M750.5 365v1M751.5 366v1M752.5 366v1M753.5 366v1M754.5 366v1M755.5 366v1M756.5 366v1M757.5 366v1M758.5 366v1M759.5 366v1M760.5 366v1M761.5 366v1M762.5 366v1M763.5 367v1M764.5 367v1M765.5 367v1M766.5 367v1M767.5 367v1M768.5 367v1M769.5 367v1M770.5 367v1M771.5 367v1M772.5 367v1M773.5 367v1M774.5 367v1M775.5 367v1M776.5 367v1M777.5 367v1M778.5 368v1M779.5 368v1M780.5 368v1M781.5 368v1M782.5 368v1M783.5 368v1M784.5 368v1M785.5 368v1M786.5 368v1M787.5 368v1M788.5 368v1M789.5 368v1M790.5 368v1M791.5 368v1M792.5 368v1M793.5 368v1M794.5 368v1M795.5 368v1M796.5 368v1M797.5 368v1M798.5 368v1M799.5 369v1M800.5 369v1M801.5 369v1M802.5 369v1M803.5 369v1M804.5 369v1M805.5 369v1M806.5 369v1M807.5 369v1M808.5 369v1M809.5 369v1M810.5 369v1M811.5 369v1M812.5 368v1M813.5 368v1M814.5 368v1M815.5 368v1M816.5 368v1M817.5 368v1M818.5 367v1M819.5 367v1M820.5 367v1M821.5 367v1M822.5 367v1M823.5 367v1M824.5 366v1M825.5 366v1M826.5 366v1M827.5 366v1M828.5 366v1M829.5 366v1M830.5 366v1M831.5 365v1M832.5 365v1M833.5 365v1M834.5 365v1M835.5 365v1M836.5 365v1M837.5 365v1M838.5 365v1M839.5 364v1M840.5 364v1M841.5 364v1M842.5 364v1M843.5 364v1M844.5 364v1M845.5 364v1M846.5 363v1M847.5 363v1M848.5 363v1M849.5 363v1M850.5 363v1M851.5 363v1M852.5 362v1M853.5 362v1M854.5 362v1M855.5 362v1M856.5 362v1M857.5 361v1M858.5 361v1M859.5 361v1M860.5 361v1M861.5 361v1M862.5 360v1M863.5 360v1M864.5 360v1M865.5 360v1M866.5 360v1M867.5 359v1M868.5 359v1M869.5 359v1M870.5 359v1M871.5 359v1M872.5 358v1M873.5 358v1M874.5 358v1M875.5 358v1M876.5 358v1M877.5 358v1M878.5 358v1M879.5 358v1M880.5 358v1M881.5 358v1M882.5 357v1M883.5 357v1M884.5 357v1M885.5 357v1M886.5 357v1M887.5 357v1M888.5 356v1M889.5 356v1M890.5 356v1M891.5 356v1M892.5 356v1M893.5 355v1M894.5 355v1M895.5 355v1M896.5 355v1M897.5 355v1M898.5 355v1M899.5 354v1M900.5 354v1M901.5 354v1M902.5 354v1M903.5 354v1M904.5 354v1M905.5 353v1M906.5 353v1M907.5 353v1M908.5 353v1M909.5 353v1M910.5 352v1M911.5 352v1M912.5 352v1M913.5 352v1M914.5 352v1M915.5 351v1M916.5 351v1M917.5 351v1M918.5 351v1M919.5 351v1M920.5 350v1M921.5 350v1M922.5 350v1M923.5 350v1M924.5 350v1M925.5 349v1M926.5 349v1M927.5 349v1M928.5 349v1M929.5 349v1M930.5 348v1M931.5 348v1M932.5 348v1M933.5 348v1M934.5 348v1M935.5 348v1M936.5 347v1M937.5 347v1M938.5 347v1M939.5 347v1M940.5 347v1M941.5 347v1M942.5 346v1M943.5 346v1M944.5 346v1M945.5 346v1M946.5 346v1M947.5 346v1M948.5 345v1M949.5 345v1M950.5 345v1M951.5 345v1M952.5 345v1M953.5 345v1M954.5 344v1M955.5 344v1M956.5 344v1M957.5 344v1M958.5 344v1M959.5 344v1M960.5 344v1M961.5 343v1M962.5 343v1M963.5 343v1M964.5 343v1M965.5 343v1M966.5 343v1M967.5 343v1M968.5 343v1M969.5 343v1M970.5 342v1M971.5 342v1M972.5 342v1M973.5 342v1M974.5 342v1M975.5 342v1M976.5 342v1M977.5 342v1M978.5 341v1M979.5 341v1M980.5 341v1M981.5 341v1M982.5 341v1M983.5 341v1M984.5 341v1M985.5 341v1M986.5 340v1M987.5 340v1M988.5 340v1M989.5 340v1M990.5 340v1M991.5 340v1M992.5 339v1M993.5 339v1M994.5 339v1M995.5 339v1M996.5 339v1M997.5 339v1M998.5 338v1M999.5 338v1M1000.5 338v1M1001.5 338v1M1002.5 338v1M1003.5 338v1M1004.5 337v1M1005.5 337v1M1006.5 337v1M1007.5 337v1M1008.5 336v1M1009.5 335v1M1010.5 335v1M1011.5 334v1M1012.5 334v1M1013.5 333v1M1014.5 332v1M1015.5 332v1M1016.5 331v1M1017.5 330v1M1018.5 330v1M1019.5 329v1M1020.5 329v1M1021.5 328v1M1022.5 328v1M1023.5 327v1M1024.5 327v1M1025.5 326v1M1026.5 326v1M1027.5 325v1M1028.5 325v1M1029.5 324v1M1030.5 324v1M1031.5 323v1M1032.5 323v1M1033.5 322v1M1034.5 322v1M1035.5 321v1M1036.5 320v1M1037.5 320v1M1038.5 319v1M1039.5 319v1M1040.5 318v1M1041.5 318v1M1042.5 317v1M1043.5 317v1M1044.5 316v1M1045.5 316v1M1046.5 315v1M1047.5 315v1M1048.5 314v1M1049.5 314v1M1050.5 313v1M1051.5 313v1M1052.5 312v1M1053.5 312v1M1054.5 311v1M1055.5 311v1M1056.5 310v1M1057.5 310v1M1058.5 309v1M1059.5 309v1M1060.5 308v1M1061.5 308v1M1062.5 307v1M1063.5 306v1M1064.5 305v1M1065.5 305v1M1066.5 304v1M1067.5 303v1M1068.5 303v1M1069.5 302v1M1070.5 301v1M1071.5 300v1M1072.5 300v1M1073.5 299v1M1074.5 298v1M1075.5 298v1M1076.5 297v1M1077.5 297v1M1078.5 296v1M1079.5 295v1M1080.5 295v1M1081.5 294v1M1082.5 294v1M1083.5 293v1M1084.5 292v1M1085.5 292v1M1086.5 291v1M1087.5 291v1M1088.5 290v1M1089.5 289v1M1090.5 289v1M1091.5 288v1M1092.5 287v1M1093.5 287v1M1094.5 286v1M1095.5 285v1M1096.5 285v1M1097.5 284v1M1098.5 283v1M1099.5 283v1M1100.5 282v1M1101.5 281v1M1102.5 280v1M1103.5 280v1M1104.5 279v1M1105.5 278v1M1106.5 278v1M1107.5 277v1M1108.5 276v1M1109.5 275v1M1110.5 274v1M1111.5 274v1M1112.5 273v1M1113.5 272v1M1114.5 271v1M1115.5 271v1M1116.5 270v1M1117.5 269v1M1118.5 268v1M1119.5 268v1M1120.5 267v1M1121.5 266v1M1122.5 266v1M1123.5 265v1M1124.5 264v1M1125.5 264v1M1126.5 263v1M1127.5 262v1M1128.5 262v1M1129.5 261v1M1130.5 261v1M1131.5 260v1M1132.5 259v1M1133.5 259v1M1134.5 258v1M1135.5 258v1M1136.5 257v1M1137.5 256v1M1138.5 256v1M1139.5 255v1M1140.5 255v1M1141.5 254v1M1142.5 253v1M1143.5 253v1M1144.5 252v1M1145.5 252v1M1146.5 251v1M1147.5 251v1M1148.5 250v1M1149.5 250v1M1150.5 249v1M1151.5 248v1M1152.5 248v1M1153.5 247v1M1154.5 247v1M1155.5 246v1M1156.5 246v1M1157.5 245v1M1158.5 245v1M1159.5 244v1M1160.5 244v1M1161.5 243v1M1162.5 243v1M1163.5 242v1M1164.5 242v1M1165.5 241v1M1166.5 241v1M1167.5 240v1M1168.5 240v1M1169.5 239v1M1170.5 239v1M1171.5 238v1M1172.5 238v1M1173.5 238v1M1174.5 237v1M1175.5 237v1M1176.5 236v1M1177.5 236v1M1178.5 236v1M1179.5 235v1M1180.5 235v1M1181.5 234v1M1182.5 234v1M1183.5 234v1M1184.5 233v1M1185.5 233v1M1186.5 233v1M1187.5 232v1M1188.5 232v1M1189.5 232v1M1190.5 231v1M1191.5 231v1M1192.5 230v1M1193.5 230v1M1194.5 230v1M1195.5 229v1M1196.5 229v1M1197.5 229v1M1198.5 228v1M1199.5 228v1M1200.5 227v1M1201.5 227v1M1202.5 226v1M1203.5 226v1M1204.5 225v1M1205.5 225v1M1206.5 225v1M1207.5 224v1M1208.5 224v1M1209.5 223v1M1210.5 223v1M1211.5 222v1M1212.5 222v1M1213.5 221v1M1214.5 221v1M1215.5 220v1M1216.5 220v1M1217.5 219v1M1218.5 219v1M1219.5 218v1M1220.5 218v1M1221.5 217v1M1222.5 217v1M1223.5 216v1M1224.5 216v1M1225.5 215v1M1226.5 215v1M1227.5 214v1M1228.5 214v1M1229.5 213v1M1230.5 213v1M1231.5 212v1M1232.5 212v1M1233.5 211v1M1234.5 211v1M1235.5 210v1M1236.5 210v1M1237.5 209v1M1238.5 209v1M1239.5 209v1M1240.5 208v1M1241.5 208v1M1242.5 207v1M1243.5 207v1M1244.5 207v1M1245.5 206v1M1246.5 206v1M1247.5 205v1M1248.5 205v1M1249.5 205v1M1250.5 204v1M1251.5 204v1M1252.5 204v1M1253.5 203v1M1254.5 203v1M1255.5 203v1M1256.5 202v1M1257.5 202v1M1258.5 202v1M1259.5 202v1M1260.5 201v1M1261.5 201v1M1262.5 201v1M1263.5 200v1M1264.5 200v1M1265.5 199v1M1266.5 199v1M1267.5 199v1M1268.5 198v1M1269.5 198v1M1270.5 197v1M1271.5 197v1M1272.5 197v1M1273.5 196v1M1274.5 196v1M1275.5 195v1M1276.5 195v1M1277.5 195v1M1278.5 194v1M1279.5 194v1M1280.5 193v1M1281.5 193v1M1282.5 193v1M1283.5 192v1M1284.5 192v1M1285.5 191v1M1286.5 191v1M1287.5 191v1M1288.5 190v1M1289.5 190v1M1290.5 189v1M1291.5 189v1M1292.5 189v1M1293.5 188v1M1294.5 188v1M1295.5 187v1M1296.5 187v1M1297.5 187v1M1298.5 186v1M1299.5 186v1M1300.5 185v1M1301.5 185v1M1302.5 185v1M1303.5 184v1M1304.5 184v1M1305.5 184v1M1306.5 184v1M1307.5 183v1M1308.5 183v1M1309.5 183v1M1310.5 182v1M1311.5 182v1M1312.5 182v1M1313.5 181v1M1314.5 181v1M1315.5 181v1M1316.5 181v1M1317.5 180v1M1318.5 180v1M1319.5 180v1M1320.5 180v1M1321.5 179v1M1322.5 179v1M1323.5 179v1M1324.5 178v1M1325.5 178v1M1326.5 178v1" stroke="#ff00ff" stroke-width="1" fill="none"/>
<path d="M6.5 388v1M7.5 388v1M8.5 388v1M9.5 388v1M10.5 388v1M11.5 388v1M12.5 388v1M13.5 388v1M14.5 388v1M15.5 388v1M16.5 387v1M17.5 387v1M18.5 387v1M19.5 387v1M20.5 387v1M21.5 387v1M22.5 387v1M23.5 387v1M24.5 387v1M25.5 387v1M26.5 387v1M27.5 387v1M28.5 387v1M29.5 387v1M30.5 386v1M31.5 386v1M32.5 386v1M33.5 386v1M34.5 386v1M35.5 386v1M36.5 386v1M37.5 385v1M38.5 385v1M39.5 385v1M40.5 385v1M41.5 385v1M42.5 384v1M43.5 384v1M44.5 384v1M45.5 384v1M46.5 383v1M47.5 383v1M48.5 383v1M49.5 383v1M50.5 383v1M51.5 382v1M52.5 382v1M53.5 382v1M54.5 382v1M55.5 382v1M56.5 381v1M57.5 381v1M58.5 381v1M59.5 381v1M60.5 381v1M61.5 381v1M62.5 380v1M63.5 380v1M64.5 380v1M65.5 380v1M66.5 380v1M67.5 380v1M68.5 380v1M69.5 380v1M70.5 380v1M71.5 380v1M72.5 380v1M73.5 380v1M74.5 380v1M75.5 380v1M76.5 380v1M77.5 380v1M78.5 380v1M79.5 380v1M80.5 380v1M81.5 380v1M82.5 380v1M83.5 380v1M84.5 381v1M85.5 381v1M86.5 381v1M87.5 381v1M88.5 380v1M89.5 380v1M90.5 380v1M91.5 379v1M92.5 379v1M93.5 379v1M94.5 378v1M95.5 378v1M96.5 377v1M97.5 377v1M98.5 377v1M99.5 376v1M100.5 376v1M101.5 375v1M102.5 375v1M103.5 374v1M104.5 374v1M105.5 373v1M106.5 373v1M107.5 372v1M108.5 372v1M109.5 372v1M110.5 371v1M111.5 371v1M112.5 370v1M113.5 370v1M114.5 369v1M115.5 369v1M116.5 368v1M117.5 368v1M118.5 367v1M119.5 367v1M120.5 366v1M121.5 366v1M122.5 365v1M123.5 365v1M124.5 364v1M125.5 364v1M126.5 363v1M127.5 363v1M128.5 362v1M129.5 361v1M130.5 361v1M131.5 360v1M132.5 360v1M133.5 359v1M134.5 359v1M135.5 358v1M136.5 357v1M137.5 357v1M138.5 356v1M139.5 356v1M140.5 355v1M141.5 354v1M142.5 354v1M143.5 353v1M144.5 353v1M145.5 352v1M146.5 352v1M147.5 352v1M148.5 351v1M149.5 351v1M150.5 350v1M151.5 350v1M152.5 349v1M153.5 349v1M154.5 348v1M155.5 348v1M156.5 348v1M157.5 348v1M158.5 348v1M159.5 348v1M160.5 348v1M161.5 348v1M162.5 348v1M163.5 348v1M164.5 348v1M165.5 348v1M166.5 348v1M167.5 348v1M168.5 348v1M169.5 349v1M170.5 349v1M171.5 349v1M172.5 349v1M173.5 349v1M174.5 349v1M175.5 349v1M176.5 349v1M177.5 349v1M178.5 349v1M179.5 350v1M180.5 350v1M181.5 350v1M182.5 350v1M183.5 351v1M184.5 351v1M185.5 351v1M186.5 352v1M187.5 352v1M188.5 353v1M189.5 353v1M190.5 353v1M191.5 354v1M192.5 354v1M193.5 355v1M194.5 355v1M195.5 356v1M196.5 357v1M197.5 357v1M198.5 358v1M199.5 359v1M200.5 359v1M201.5 360v1M202.5 361v1M203.5 361v1M204.5 362v1M205.5 363v1M206.5 363v1M207.5 364v1M208.5 365v1M209.5 366v1M210.5 367v1M211.5 367v1M212.5 368v1M213.5 369v1M214.5 370v1M215.5 371v1M216.5 371v1M217.5 372v1M218.5 373v1M219.5 374v1M220.5 375v1M221.5 375v1M222.5 376v1M223.5 377v1M224.5 377v1M225.5 378v1M226.5 379v1M227.5 380v1M228.5 380v1M229.5 381v1M230.5 382v1M231.5 382v1M232.5 383v1M233.5 383v1M234.5 384v1M235.5 384v1M236.5 385v1M237.5 385v1M238.5 386v1M239.5 386v1M240.5 386v1M241.5 386v1M242.5 385v1M243.5 385v1M244.5 385v1M245.5 385v1M246.5 384v1M247.5 384v1M248.5 384v1M249.5 384v1M250.5 384v1M251.5 384v1M252.5 384v1M253.5 384v1M254.5 384v1M255.5 385v1M256.5 385v1M257.5 385v1M258.5 385v1M259.5 385v1M260.5 385v1M261.5 385v1M262.5 386v1M263.5 386v1M264.5 387v1M265.5 387v1M266.5 387v1M267.5 388v1M268.5 388v1M269.5 389v1M270.5 389v1M271.5 390v1M272.5 391v1M273.5 391v1M274.5 392v1M275.5 393v1M276.5 393v1M277.5 394v1M278.5 395v1M279.5 395v1M280.5 396v1M281.5 396v1M282.5 396v1M283.5 397v1M284.5 397v1M285.5 397v1M286.5 397v1M287.5 397v1M288.5 397v1M289.5 397v1M290.5 397v1M291.5 397v1M292.5 397v1M293.5 397v1M294.5 397v1M295.5 397v1M296.5 397v1M297.5 397v1M298.5 397v1M299.5 397v1M300.5 397v1M301.5 396v1M302.5 396v1M303.5 396v1M304.5 395v1M305.5 395v1M306.5 395v1M307.5 394v1M308.5 394v1M309.5 394v1M310.5 393v1M311.5 393v1M312.5 393v1M313.5 392v1M314.5 392v1M315.5 391v1M316.5 391v1M317.5 390v1M318.5 389v1M319.5 389v1M320.5 388v1M321.5 388v1M322.5 387v1M323.5 387v1M324.5 386v1M325.5 386v1M326.5 385v1M327.5 384v1M328.5 384v1M329.5 383v1M330.5 383v1M331.5 382v1M332.5 382v1M333.5 381v1M334.5 381v1M335.5 380v1M336.5 380v1M337.5 379v1M338.5 378v1M339.5 378v1M340.5 377v1M341.5 377v1M342.5 376v1M343.5 375v1M344.5 375v1M345.5 374v1M346.5 374v1M347.5 373v1M348.5 372v1M349.5 372v1M350.5 371v1M351.5 370v1M352.5 370v1M353.5 369v1M354.5 368v1M355.5 367v1M356.5 367v1M357.5 366v1M358.5 365v1M359.5 364v1M360.5 363v1M361.5 362v1M362.5 361v1M363.5 360v1M364.5 359v1M365.5 358v1M366.5 357v1M367.5 355v2M368.5 354v1M369.5 353v1M370.5 352v1M371.5 351v1M372.5 350v1M373.5 349v1M374.5 348v1M375.5 347v1M376.5 346v1M377.5 345v1M378.5 344v1M379.5 343v1M380.5 341v2M381.5 340v1M382.5 339v1M383.5 338v1M384.5 336v2M385.5 335v1M386.5 334v1M387.5 333v1M388.5 332v1M389.5 330v2M390.5 329v1M391.5 328v1M392.5 327v1M393.5 326v1M394.5 325v1M395.5 324v1M396.5 323v1M397.5 322v1M398.5 321v1M399.5 320v1M400.5 319v1M401.5 318v1M402.5 318v1M403.5 317v1M404.5 316v1M405.5 315v1M406.5 314v1M407.5 314v1M408.5 314v1M409.5 314v1M410.5 314v1M411.5 314v1M412.5 314v1M413.5 314v1M414.5 314v1M415.5 314v1M416.5 314v1M417.5 314v1M418.5 314v1M419.5 313v1M420.5 313v1M421.5 313v1M422.5 313v1M423.5 312v1M424.5 312v1M425.5 312v1M426.5 312v1M427.5 311v1M428.5 311v1M429.5 311v1M430.5 311v1M431.5 310v1M432.5 310v1M433.5 310v1M434.5 310v1M435.5 309v1M436.5 309v1M437.5 309v1M438.5 308v1M439.5 308v1M440.5 307v1M441.5 307v1M442.5 306v1M443.5 306v1M444.5 305v1M445.5 305v1M446.5 304v1M447.5 304v1M448.5 304v1M449.5 304v1M450.5 303v1M451.5 303v1M452.5 303v1M453.5 303v1M454.5 303v1M455.5 303v1M456.5 302v1M457.5 302v1M458.5 302v1M459.5 303v1M460.5 303v1M461.5 303v1M462.5 303v1M463.5 303v1M464.5 303v1M465.5 303v1M466.5 304v1M467.5 304v1M468.5 304v1M469.5 305v1M470.5 305v1M471.5 305v1M472.5 306v1M473.5 306v1M474.5 306v1M475.5 307v1M476.5 307v1M477.5 307v1M478.5 308v1M479.5 308v1M480.5 308v1M481.5 309v1M482.5 309v1M483.5 310v1M484.5 310v1M485.5 310v1M486.5 311v1M487.5 311v1M488.5 311v1M489.5 312v1M490.5 312v1M491.5 312v1M492.5 313v1M493.5 313v1M494.5 313v1M495.5 314v1M496.5 314v1M497.5 314v1M498.5 315v1M499.5 315v1M500.5 315v1M501.5 315v1M502.5 316v1M503.5 316v1M504.5 316v1M505.5 317v1M506.5 317v1M507.5 317v1M508.5 318v1M509.5 318v1M510.5 318v1M511.5 318v1M512.5 319v1M513.5 319v1M514.5 319v1M515.5 320v1M516.5 320v1M517.5 320v1M518.5 321v1M519.5 321v1M520.5 321v1M521.5 321v1M522.5 322v1M523.5 322v1M524.5 322v1M525.5 323v1M526.5 323v1M527.5 323v1M528.5 324v1M529.5 324v1M530.5 324v1M531.5 324v1M532.5 324v1M533.5 325v1M534.5 325v1M535.5 325v1M536.5 325v1M537.5 325v1M538.5 326v1M539.5 326v1M540.5 326v1M541.5 326v1M542.5 326v1M543.5 327v1M544.5 327v1M545.5 327v1M546.5 327v1M547.5 327v1M548.5 328v1M549.5 328v1M550.5 328v1M551.5 328v1M552.5 328v1M553.5 329v1M554.5 329v1M555.5 329v1M556.5 329v1M557.5 330v1M558.5 330v1M559.5 330v1M560.5 330v1M561.5 331v1M562.5 331v1M563.5 331v1M564.5 331v1M565.5 332v1M566.5 332v1M567.5 332v1M568.5 333v1M569.5 334v1M570.5 335v1M571.5 336v1M572.5 337v1M573.5 338v1M574.5 339v1M575.5 340v1M576.5 341v1M577.5 342v1M578.5 343v1M579.5 344v1M580.5 345v1M581.5 345v1M582.5 346v1M583.5 347v1M584.5 348v1M585.5 349v1M586.5 349v1M587.5 350v1M588.5 351v1M589.5 352v1M590.5 352v1M591.5 353v1M592.5 354v1M593.5 355v1M594.5 355v1M595.5 356v1M596.5 357v1M597.5 357v1M598.5 358v1M599.5 359v1M600.5 359v1M601.5 360v1M602.5 361v1M603.5 362v1M604.5 362v1M605.5 363v1M606.5 364v1M607.5 364v1M608.5 365v1M609.5 365v1M610.5 366v1M611.5 367v1M612.5 367v1M613.5 368v1M614.5 369v1M615.5 369v1M616.5 370v1M617.5 371v1M618.5 372v1M619.5 373v1M620.5 373v1M621.5 374v1M622.5 375v1M623.5 376v1M624.5 377v1M625.5 378v1M626.5 379v1M627.5 380v1M628.5 380v1M629.5 381v1M630.5 382v1M631.5 383v1M632.5 384v1M633.5 385v1M634.5 386v1M635.5 387v1M636.5 387v1M637.5 388v1M638.5 389v1M639.5 390v1M640.5 391v1M641.5 392v1M642.5 393v1M643.5 394v1M644.5 394v1M645.5 395v1M646.5 396v1M647.5 397v1M648.5 398v1M649.5 399v1M650.5 400v1M651.5 401v1M652.5 401v1M653.5 402v1M654.5 403v1M655.5 404v1M656.5 405v1M657.5 406v1M658.5 407v1M659.5 408v1M660.5 409v1M661.5 409v1M662.5 410v1M663.5 411v1M664.5 412v1M665.5 413v1M666.5 414v1M667.5 415v1M668.5 416v1M669.5 417v1M670.5 418v1M671.5 419v1M672.5 420v2M673.5 422v1M674.5 423v1M675.5 424v1M676.5 425v2M677.5 427v1M678.5 428v1M679.5 429v1M680.5 430v1M681.5 431v1M682.5 431v1M683.5 432v1M684.5 432v1M685.5 433v1M686.5 434v1M687.5 434v1M688.5 435v1M689.5 436v1M690.5 436v1M691.5 437v1M692.5 437v1M693.5 437v1M694.5 438v1M695.5 438v1M696.5 439v1M697.5 439v1M698.5 440v1M699.5 440v1M700.5 440v1M701.5 441v1M702.5 441v1M703.5 441v1M704.5 441v1M705.5 442v1M706.5 442v1M707.5 442v1M708.5 443v1M709.5 443v1M710.5 443v1M711.5 443v1M712.5 443v1M713.5 443v1M714.5 443v1M715.5 443v1M716.5 443v1M717.5 443v1M718.5 443v1M719.5 443v1M720.5 443v1M721.5 443v1M722.5 443v1M723.5 443v1M724.5 443v1M725.5 443v1M726.5 443v1M727.5 443v1M728.5 443v1M729.5 443v1M730.5 443v1M731.5 443v1M732.5 443v1M733.5 443v1M734.5 443v1M735.5 442v1M736.5 441v1M737.5 440v1M738.5 440v1M739.5 439v1M740.5 438v1M741.5 437v1M742.5 436v1M743.5 435v1M744.5 434v1M745.5 433v1M746.5 432v1M747.5 431v1M748.5 430v1M749.5 429v1M750.5 428v1M751.5 427v1M752.5 426v1M753.5 425v1M754.5 424v1M755.5 423v1M756.5 422v1M757.5 421v1M758.5 420v1M759.5 419v1M760.5 418v1M761.5 417v1M762.5 416v1M763.5 415v1M764.5 414v1M765.5 413v1M766.5 412v1M767.5 411v1M768.5 410v1M769.5 409v1M770.5 409v1M771.5 408v1M772.5 407v1M773.5 406v1M774.5 406v1M775.5 405v1M776.5 404v1M777.5 404v1M778.5 403v1M779.5 402v1M780.5 402v1M781.5 401v1M782.5 400v1M783.5 400v1M784.5 399v1M785.5 399v1M786.5 398v1M787.5 397v1M788.5 396v1M789.5 395v1M790.5 394v1M791.5 394v1M792.5 393v1M793.5 392v1M794.5 391v1M795.5 390v1M796.5 389v1M797.5 388v1M798.5 387v1M799.5 386v1M800.5 385v1M801.5 384v1M802.5 383v1M803.5 382v1M804.5 380v2M805.5 379v1M806.5 378v1M807.5 377v1M808.5 376v1M809.5 375v1M810.5 373v2M811.5 372v1M812.5 371v1M813.5 370v1M814.5 368v2M815.5 367v1M816.5 366v1M817.5 364v2M818.5 363v1M819.5 362v1M820.5 361v1M821.5 359v2M822.5 358v1M823.5 356v2M824.5 355v1M825.5 354v1M826.5 352v2M827.5 351v1M828.5 349v2M829.5 348v1M830.5 347v1M831.5 345v2M832.5 344v1M833.5 342v2M834.5 341v1M835.5 340v1M836.5 338v2M837.5 337v1M838.5 335v2M839.5 334v1M840.5 333v1M841.5 331v2M842.5 330v1M843.5 328v2M844.5 327v1M845.5 326v1M846.5 324v2M847.5 323v1M848.5 322v1M849.5 320v2M850.5 319v1M851.5 318v1M852.5 317v1M853.5 316v1M854.5 315v1M855.5 313v2M856.5 312v1M857.5 311v1M858.5 310v1M859.5 309v1M860.5 307v2M861.5 306v1M862.5 305v1M863.5 304v1M864.5 303v1M865.5 302v1M866.5 301v1M867.5 300v1M868.5 299v1M869.5 297v2M870.5 296v1M871.5 295v1M872.5 294v1M873.5 293v1M874.5 292v1M875.5 291v1M876.5 291v1M877.5 290v1M878.5 289v1M879.5 288v1M880.5 287v1M881.5 286v1M882.5 286v1M883.5 286v1M884.5 285v1M885.5 285v1M886.5 284v1M887.5 284v1M888.5 283v1M889.5 283v1M890.5 283v1M891.5 282v1M892.5 282v1M893.5 281v1M894.5 281v1M895.5 280v1M896.5 280v1M897.5 279v1M898.5 279v1M899.5 278v1M900.5 278v1M901.5 277v1M902.5 277v1M903.5 276v1M904.5 276v1M905.5 275v1M906.5 275v1M907.5 274v1M908.5 274v1M909.5 273v1M910.5 273v1M911.5 273v1M912.5 272v1M913.5 272v1M914.5 271v1M915.5 271v1M916.5 271v1M917.5 270v1M918.5 270v1M919.5 269v1M920.5 269v1M921.5 269v1M922.5 268v1M923.5 268v1M924.5 268v1M925.5 267v1M926.5 267v1M927.5 267v1M928.5 266v1M929.5 266v1M930.5 266v1M931.5 265v1M932.5 265v1M933.5 265v1M934.5 264v1M935.5 264v1M936.5 264v1M937.5 263v1M938.5 263v1M939.5 263v1M940.5 262v1M941.5 262v1M942.5 262v1M943.5 261v1M944.5 261v1M945.5 261v1M946.5 260v1M947.5 260v1M948.5 260v1M949.5 260v1M950.5 260v1M951.5 259v1M952.5 259v1M953.5 259v1M954.5 259v1M955.5 259v1M956.5 258v1M957.5 258v1M958.5 258v1M959.5 258v1M960.5 258v1M961.5 258v1M962.5 258v1M963.5 257v1M964.5 257v1M965.5 257v1M966.5 257v1M967.5 257v1M968.5 257v1M969.5 257v1M970.5 257v1M971.5 256v1M972.5 256v1M973.5 256v1M974.5 256v1M975.5 256v1M976.5 256v1M977.5 257v1M978.5 257v1M979.5 257v1M980.5 257v1M981.5 257v1M982.5 257v1M983.5 258v1M984.5 258v1M985.5 258v1M986.5 258v1M987.5 258v1M988.5 258v1M989.5 258v1M990.5 258v1M991.5 258v1M992.5 258v1M993.5 258v1M994.5 258v1M995.5 258v1M996.5 259v1M997.5 259v1M998.5 259v1M999.5 259v1M1000.5 259v1M1001.5 259v1M1002.5 259v1M1003.5 259v1M1004.5 259v1M1005.5 259v1M1006.5 259v1M1007.5 259v1M1008.5 259v1M1009.5 259v1M1010.5 259v1M1011.5 259v1M1012.5 259v1M1013.5 259v1M1014.5 259v1M1015.5 259v1M1016.5 259v1M1017.5 258v1M1018.5 258v1M1019.5 258v1M1020.5 258v1M1021.5 258v1M1022.5 258v1M1023.5 258v1M1024.5 257v1M1025.5 257v1M1026.5 257v1M1027.5 257v1M1028.5 257v1M1029.5 256v1M1030.5 256v1M1031.5 256v1M1032.5 256v1M1033.5 255v1M1034.5 255v1M1035.5 255v1M1036.5 255v1M1037.5 254v1M1038.5 254v1M1039.5 254v1M1040.5 254v1M1041.5 253v1M1042.5 253v1M1043.5 253v1M1044.5 252v1M1045.5 252v1M1046.5 252v1M1047.5 251v1M1048.5 251v1M1049.5 251v1M1050.5 250v1M1051.5 250v1M1052.5 250v1M1053.5 249v1M1054.5 249v1M1055.5 248v1M1056.5 248v1M1057.5 247v1M1058.5 247v1M1059.5 247v1M1060.5 246v1M1061.5 246v1M1062.5 245v1M1063.5 245v1M1064.5 244v1M1065.5 244v1M1066.5 243v1M1067.5 243v1M1068.5 243v1M1069.5 242v1M1070.5 242v1M1071.5 242v1M1072.5 241v1M1073.5 241v1M1074.5 240v1M1075.5 240v1M1076.5 240v1M1077.5 239v1M1078.5 239v1M1079.5 239v1M1080.5 238v1M1081.5 238v1M1082.5 238v1M1083.5 238v1M1084.5 238v1M1085.5 237v1M1086.5 237v1M1087.5 237v1M1088.5 237v1M1089.5 236v1M1090.5 236v1M1091.5 236v1M1092.5 236v1M1093.5 236v1M1094.5 235v1M1095.5 235v1M1096.5 235v1M1097.5 234v1M1098.5 234v1M1099.5 233v1M1100.5 233v1M1101.5 232v1M1102.5 232v1M1103.5 231v1M1104.5 231v1M1105.5 230v1M1106.5 230v1M1107.5 229v1M1108.5 229v1M1109.5 228v1M1110.5 228v1M1111.5 227v1M1112.5 227v1M1113.5 226v1M1114.5 225v1M1115.5 225v1M1116.5 224v1M1117.5 224v1M1118.5 223v1M1119.5 222v1M1120.5 222v1M1121.5 221v1M1122.5 221v1M1123.5 220v1M1124.5 219v1M1125.5 218v1M1126.5 218v1M1127.5 217v1M1128.5 216v1M1129.5 216v1M1130.5 215v1M1131.5 214v1M1132.5 214v1M1133.5 213v1M1134.5 212v1M1135.5 212v1M1136.5 211v1M1137.5 210v1M1138.5 210v1M1139.5 209v1M1140.5 208v1M1141.5 208v1M1142.5 207v1M1143.5 207v1M1144.5 206v1M1145.5 205v1M1146.5 205v1M1147.5 204v1M1148.5 204v1M1149.5 203v1M1150.5 202v1M1151.5 201v1M1152.5 201v1M1153.5 200v1M1154.5 199v1M1155.5 198v1M1156.5 198v1M1157.5 197v1M1158.5 196v1M1159.5 195v1M1160.5 195v1M1161.5 194v1M1162.5 193v1M1163.5 192v1M1164.5 191v1M1165.5 190v1M1166.5 189v1M1167.5 188v1M1168.5 188v1M1169.5 187v1M1170.5 186v1M1171.5 185v1M1172.5 185v1M1173.5 184v1M1174.5 183v1M1175.5 183v1M1176.5 182v1M1177.5 181v1M1178.5 181v1M1179.5 180v1M1180.5 179v1M1181.5 179v1M1182.5 178v1M1183.5 177v1M1184.5 177v1M1185.5 176v1M1186.5 176v1M1187.5 175v1M1188.5 175v1M1189.5 174v1M1190.5 173v1M1191.5 173v1M1192.5 172v1M1193.5 172v1M1194.5 171v1M1195.5 170v1M1196.5 170v1M1197.5 169v1M1198.5 169v1M1199.5 168v1M1200.5 168v1M1201.5 167v1M1202.5 167v1M1203.5 166v1M1204.5 165v1M1205.5 165v1M1206.5 164v1M1207.5 164v1M1208.5 163v1M1209.5 163v1M1210.5 162v1M1211.5 162v1M1212.5 161v1M1213.5 160v1M1214.5 160v1M1215.5 159v1M1216.5 159v1M1217.5 158v1M1218.5 158v1M1219.5 157v1M1220.5 157v1M1221.5 156v1M1222.5 156v1M1223.5 155v1M1224.5 155v1M1225.5 154v1M1226.5 154v1M1227.5 153v1M1228.5 153v1M1229.5 152v1M1230.5 152v1M1231.5 151v1M1232.5 151v1M1233.5 151v1M1234.5 150v1M1235.5 150v1M1236.5 149v1M1237.5 149v1M1238.5 148v1M1239.5 148v1M1240.5 148v1M1241.5 147v1M1242.5 147v1M1243.5 146v1M1244.5 146v1M1245.5 146v1M1246.5 145v1M1247.5 145v1M1248.5 144v1M1249.5 144v1M1250.5 143v1M1251.5 142v1M1252.5 142v1M1253.5 141v1M1254.5 140v1M1255.5 140v1M1256.5 139v1M1257.5 138v1M1258.5 138v1M1259.5 137v1M1260.5 136v1M1261.5 135v1M1262.5 135v1M1263.5 134v1M1264.5 134v1M1265.5 133v1M1266.5 132v1M1267.5 132v1M1268.5 131v1M1269.5 131v1M1270.5 130v1M1271.5 129v1M1272.5 129v1M1273.5 128v1M1274.5 128v1M1275.5 127v1M1276.5 127v1M1277.5 126v1M1278.5 126v1M1279.5 125v1M1280.5 125v1M1281.5 125v1M1282.5 124v1M1283.5 124v1M1284.5 123v1M1285.5 123v1M1286.5 123v1M1287.5 122v1M1288.5 122v1M1289.5 121v1M1290.5 121v1M1291.5 120v1M1292.5 120v1M1293.5 119v1M1294.5 119v1M1295.5 118v1M1296.5 118v1M1297.5 117v1M1298.5 117v1M1299.5 116v1M1300.5 116v1M1301.5 115v1M1302.5 115v1M1303.5 115v1M1304.5 114v1M1305.5 114v1M1306.5 114v1M1307.5 114v1M1308.5 113v1M1309.5 113v1M1310.5 113v1M1311.5 112v1M1312.5 112v1M1313.5 112v1M1314.5 112v1M1315.5 111v1M1316.5 111v1M1317.5 111v1M1318.5 111v1M1319.5 110v1M1320.5 110v1M1321.5 110v1M1322.5 110v1M1323.5 109v1M1324.5 109v1M1325.5 109v1M1326.5 109v1" stroke="#ff4500" stroke-width="1" fill="none"/>
<rect x="6" y="47" width="1670" height="2" fill="#ff0000"/>
<rect x="6" y="252" width="1670" height="2" fill="#00ff7f"/>
<rect x="6" y="399" width="1670" height="2" fill="#0000ff"/>
<polygon points="1334,42 1345.5,42 1339.7,48.5" fill="#c0c0c0"/>
<rect x="6" y="352" width="1" height="32" fill="#ff4500"/>
<rect x="6" y="368" width="3" height="4" fill="#ff4500"/>
<rect x="14" y="352" width="1" height="18" fill="#ff4500"/>
<rect x="12" y="360" width="5" height="7" fill="#ff4500"/>
<rect x="22" y="340" width="1" height="28" fill="#ff4500"/>
<rect x="20" y="352" width="5" height="12" fill="#ff4500"/>
<rect x="30" y="340" width="1" height="18" fill="#32cd32"/>
<rect x="28" y="352" width="5" height="1" fill="#32cd32"/>
<rect x="38" y="317" width="1" height="41" fill="#ff4500"/>
<rect x="36" y="333" width="5" height="19" fill="#ff4500"/>
<rect x="46" y="322" width="1" height="61" fill="#32cd32"/>
<rect x="44" y="333" width="5" height="39" fill="#32cd32"/>
<rect x="54" y="365" width="1" height="27" fill="#32cd32"/>
<rect x="52" y="371" width="5" height="4" fill="#32cd32"/>
<rect x="62" y="373" width="1" height="7" fill="#000000"/>
<rect x="60" y="373" width="5" height="1" fill="#000000"/>
<rect x="70" y="358" width="1" height="15" fill="#ff4500"/>
<rect x="68" y="362" width="5" height="10" fill="#ff4500"/>
<rect x="78" y="359" width="1" height="29" fill="#32cd32"/>
<rect x="76" y="361" width="5" height="27" fill="#32cd32"/>
<rect x="86" y="383" width="1" height="41" fill="#32cd32"/>
<rect x="84" y="387" width="5" height="18" fill="#32cd32"/>
<rect x="94" y="295" width="1" height="119" fill="#ff4500"/>
<rect x="92" y="311" width="5" height="91" fill="#ff4500"/>
<rect x="102" y="286" width="1" height="30" fill="#ff4500"/>
<rect x="100" y="307" width="5" height="4" fill="#ff4500"/>
<rect x="110" y="299" width="1" height="10" fill="#ff4500"/>
<rect x="108" y="305" width="5" height="4" fill="#ff4500"/>
<rect x="118" y="300" width="1" height="16" fill="#32cd32"/>
<rect x="116" y="300" width="5" height="11" fill="#32cd32"/>
<rect x="126" y="302" width="1" height="16" fill="#000000"/>
<rect x="124" y="309" width="5" height="1" fill="#000000"/>
<rect x="134" y="293" width="1" height="29" fill="#ff4500"/>
<rect x="132" y="302" width="5" height="8" fill="#ff4500"/>
<rect x="142" y="300" width="1" height="30" fill="#32cd32"/>
<rect x="140" y="300" width="5" height="24" fill="#32cd32"/>
<rect x="150" y="319" width="1" height="47" fill="#32cd32"/>
<rect x="148" y="324" width="5" height="32" fill="#32cd32"/>
<rect x="158" y="355" width="1" height="50" fill="#32cd32"/>
<rect x="156" y="355" width="5" height="29" fill="#32cd32"/>
<rect x="166" y="379" width="1" height="13" fill="#ff4500"/>
<rect x="164" y="384" width="5" height="1" fill="#ff4500"/>
<rect x="174" y="376" width="1" height="13" fill="#ff4500"/>
<rect x="172" y="379" width="5" height="7" fill="#ff4500"/>
<rect x="182" y="371" width="1" height="22" fill="#ff4500"/>
<rect x="180" y="371" width="5" height="8" fill="#ff4500"/>
<rect x="190" y="363" width="1" height="67" fill="#32cd32"/>
<rect x="188" y="372" width="5" height="58" fill="#32cd32"/>
<rect x="198" y="413" width="1" height="49" fill="#32cd32"/>
<rect x="196" y="429" width="5" height="19" fill="#32cd32"/>
<rect x="206" y="441" width="1" height="53" fill="#32cd32"/>
<rect x="204" y="446" width="5" height="34" fill="#32cd32"/>
<rect x="214" y="477" width="1" height="16" fill="#32cd32"/>
<rect x="212" y="477" width="5" height="15" fill="#32cd32"/>
<rect x="222" y="469" width="1" height="19" fill="#32cd32"/>
<rect x="220" y="477" width="5" height="8" fill="#32cd32"/>
<rect x="230" y="483" width="1" height="39" fill="#32cd32"/>
<rect x="228" y="483" width="5" height="8" fill="#32cd32"/>
<rect x="238" y="443" width="1" height="56" fill="#ff4500"/>
<rect x="236" y="455" width="5" height="37" fill="#ff4500"/>
<rect x="246" y="348" width="1" height="113" fill="#ff4500"/>
<rect x="244" y="367" width="5" height="88" fill="#ff4500"/>
<rect x="254" y="346" width="1" height="50" fill="#32cd32"/>
<rect x="252" y="368" width="5" height="8" fill="#32cd32"/>
<rect x="262" y="364" width="1" height="13" fill="#ff4500"/>
<rect x="260" y="371" width="5" height="4" fill="#ff4500"/>
<rect x="270" y="377" width="1" height="19" fill="#32cd32"/>
<rect x="268" y="386" width="5" height="3" fill="#32cd32"/>
<rect x="278" y="371" width="1" height="30" fill="#32cd32"/>
<rect x="276" y="388" width="5" height="12" fill="#32cd32"/>
<rect x="286" y="361" width="1" height="46" fill="#ff4500"/>
<rect x="284" y="368" width="5" height="32" fill="#ff4500"/>
<rect x="294" y="278" width="1" height="92" fill="#ff4500"/>
<rect x="292" y="294" width="5" height="76" fill="#ff4500"/>
<rect x="302" y="259" width="1" height="44" fill="#ff4500"/>
<rect x="300" y="278" width="5" height="17" fill="#ff4500"/>
<rect x="310" y="278" width="1" height="10" fill="#32cd32"/>
<rect x="308" y="278" width="5" height="3" fill="#32cd32"/>
<rect x="318" y="282" width="1" height="12" fill="#32cd32"/>
<rect x="316" y="286" width="5" height="1" fill="#32cd32"/>
<rect x="326" y="265" width="1" height="34" fill="#ff4500"/>
<rect x="324" y="276" width="5" height="11" fill="#ff4500"/>
<rect x="334" y="259" width="1" height="31" fill="#ff4500"/>
<rect x="332" y="268" width="5" height="6" fill="#ff4500"/>
<rect x="342" y="243" width="1" height="91" fill="#32cd32"/>
<rect x="340" y="269" width="5" height="32" fill="#32cd32"/>
<rect x="350" y="286" width="1" height="44" fill="#ff4500"/>
<rect x="348" y="287" width="5" height="14" fill="#ff4500"/>
<rect x="358" y="285" width="1" height="14" fill="#32cd32"/>
<rect x="356" y="286" width="5" height="12" fill="#32cd32"/>
<rect x="366" y="289" width="1" height="14" fill="#ff4500"/>
<rect x="364" y="291" width="5" height="11" fill="#ff4500"/>
<rect x="374" y="288" width="1" height="20" fill="#32cd32"/>
<rect x="372" y="292" width="5" height="2" fill="#32cd32"/>
<rect x="382" y="278" width="1" height="21" fill="#ff4500"/>
<rect x="380" y="281" width="5" height="13" fill="#ff4500"/>
<rect x="390" y="276" width="1" height="39" fill="#32cd32"/>
<rect x="388" y="281" width="5" height="31" fill="#32cd32"/>
<rect x="398" y="281" width="1" height="53" fill="#ff4500"/>
<rect x="396" y="294" width="5" height="19" fill="#ff4500"/>
<rect x="406" y="276" width="1" height="54" fill="#ff4500"/>
<rect x="404" y="288" width="5" height="6" fill="#ff4500"/>
<rect x="414" y="350" width="1" height="14" fill="#000000"/>
<rect x="412" y="357" width="5" height="1" fill="#000000"/>
<rect x="422" y="354" width="1" height="17" fill="#ff4500"/>
<rect x="420" y="355" width="5" height="5" fill="#ff4500"/>
<rect x="430" y="336" width="1" height="37" fill="#ff4500"/>
<rect x="428" y="348" width="5" height="7" fill="#ff4500"/>
<rect x="438" y="318" width="1" height="50" fill="#ff4500"/>
<rect x="436" y="328" width="5" height="21" fill="#ff4500"/>
<rect x="446" y="314" width="1" height="44" fill="#ff4500"/>
<rect x="444" y="318" width="5" height="10" fill="#ff4500"/>
<rect x="454" y="317" width="1" height="20" fill="#32cd32"/>
<rect x="452" y="317" width="5" height="13" fill="#32cd32"/>
<rect x="462" y="324" width="1" height="15" fill="#ff4500"/>
<rect x="460" y="326" width="5" height="10" fill="#ff4500"/>
<rect x="470" y="306" width="1" height="25" fill="#ff4500"/>
<rect x="468" y="315" width="5" height="11" fill="#ff4500"/>
<rect x="478" y="292" width="1" height="26" fill="#ff4500"/>
<rect x="476" y="308" width="5" height="7" fill="#ff4500"/>
<rect x="486" y="298" width="1" height="71" fill="#32cd32"/>
<rect x="484" y="307" width="5" height="49" fill="#32cd32"/>
<rect x="494" y="324" width="1" height="46" fill="#ff4500"/>
<rect x="492" y="329" width="5" height="27" fill="#ff4500"/>
<rect x="502" y="326" width="1" height="5" fill="#ff4500"/>
<rect x="500" y="326" width="5" height="5" fill="#ff4500"/>
<rect x="510" y="341" width="1" height="12" fill="#ff4500"/>
<rect x="508" y="342" width="5" height="5" fill="#ff4500"/>
<rect x="518" y="341" width="1" height="16" fill="#32cd32"/>
<rect x="516" y="343" width="5" height="6" fill="#32cd32"/>
<rect x="526" y="329" width="1" height="37" fill="#ff4500"/>
<rect x="524" y="343" width="5" height="6" fill="#ff4500"/>
<rect x="534" y="321" width="1" height="45" fill="#32cd32"/>
<rect x="532" y="342" width="5" height="5" fill="#32cd32"/>
<rect x="542" y="307" width="1" height="39" fill="#ff4500"/>
<rect x="540" y="312" width="5" height="34" fill="#ff4500"/>
<rect x="550" y="318" width="1" height="18" fill="#32cd32"/>
<rect x="548" y="318" width="5" height="16" fill="#32cd32"/>
<rect x="558" y="318" width="1" height="26" fill="#32cd32"/>
<rect x="556" y="331" width="5" height="10" fill="#32cd32"/>
<rect x="566" y="327" width="1" height="26" fill="#ff4500"/>
<rect x="564" y="334" width="5" height="7" fill="#ff4500"/>
<rect x="574" y="330" width="1" height="157" fill="#32cd32"/>
<rect x="572" y="333" width="5" height="154" fill="#32cd32"/>
<rect x="582" y="481" width="1" height="38" fill="#32cd32"/>
<rect x="580" y="485" width="5" height="9" fill="#32cd32"/>
<rect x="590" y="466" width="1" height="27" fill="#ff4500"/>
<rect x="588" y="468" width="5" height="24" fill="#ff4500"/>
<rect x="598" y="447" width="1" height="21" fill="#ff4500"/>
<rect x="596" y="452" width="5" height="16" fill="#ff4500"/>
<rect x="606" y="448" width="1" height="18" fill="#32cd32"/>
<rect x="604" y="452" width="5" height="9" fill="#32cd32"/>
<rect x="614" y="398" width="1" height="68" fill="#ff4500"/>
<rect x="612" y="405" width="5" height="55" fill="#ff4500"/>
<rect x="622" y="396" width="1" height="81" fill="#32cd32"/>
<rect x="620" y="405" width="5" height="65" fill="#32cd32"/>
<rect x="630" y="430" width="1" height="60" fill="#32cd32"/>
<rect x="628" y="469" width="5" height="6" fill="#32cd32"/>
<rect x="638" y="472" width="1" height="13" fill="#32cd32"/>
<rect x="636" y="474" width="5" height="8" fill="#32cd32"/>
<rect x="646" y="460" width="1" height="16" fill="#32cd32"/>
<rect x="644" y="469" width="5" height="2" fill="#32cd32"/>
<rect x="654" y="451" width="1" height="24" fill="#ff4500"/>
<rect x="652" y="457" width="5" height="15" fill="#ff4500"/>
<rect x="662" y="445" width="1" height="57" fill="#32cd32"/>
<rect x="660" y="457" width="5" height="45" fill="#32cd32"/>
<rect x="670" y="457" width="1" height="66" fill="#ff4500"/>
<rect x="668" y="479" width="5" height="24" fill="#ff4500"/>
<rect x="678" y="431" width="1" height="62" fill="#ff4500"/>
<rect x="676" y="472" width="5" height="9" fill="#ff4500"/>
<rect x="686" y="458" width="1" height="22" fill="#ff4500"/>
<rect x="684" y="461" width="5" height="12" fill="#ff4500"/>
<rect x="694" y="444" width="1" height="29" fill="#ff4500"/>
<rect x="692" y="451" width="5" height="17" fill="#ff4500"/>
<rect x="702" y="446" width="1" height="24" fill="#ff4500"/>
<rect x="700" y="448" width="5" height="3" fill="#ff4500"/>
<rect x="710" y="394" width="1" height="61" fill="#ff4500"/>
<rect x="708" y="394" width="5" height="56" fill="#ff4500"/>
<rect x="718" y="309" width="1" height="106" fill="#ff4500"/>
<rect x="716" y="315" width="5" height="82" fill="#ff4500"/>
<rect x="726" y="296" width="1" height="40" fill="#32cd32"/>
<rect x="724" y="316" width="5" height="13" fill="#32cd32"/>
<rect x="734" y="329" width="1" height="7" fill="#000000"/>
<rect x="732" y="329" width="5" height="1" fill="#000000"/>
<rect x="742" y="329" width="1" height="12" fill="#32cd32"/>
<rect x="740" y="333" width="5" height="3" fill="#32cd32"/>
<rect x="750" y="322" width="1" height="29" fill="#32cd32"/>
<rect x="748" y="337" width="5" height="3" fill="#32cd32"/>
<rect x="758" y="278" width="1" height="66" fill="#ff4500"/>
<rect x="756" y="293" width="5" height="48" fill="#ff4500"/>
<rect x="766" y="268" width="1" height="66" fill="#32cd32"/>
<rect x="764" y="295" width="5" height="4" fill="#32cd32"/>
<rect x="774" y="289" width="1" height="43" fill="#32cd32"/>
<rect x="772" y="299" width="5" height="9" fill="#32cd32"/>
<rect x="782" y="299" width="1" height="19" fill="#32cd32"/>
<rect x="780" y="306" width="5" height="8" fill="#32cd32"/>
<rect x="790" y="300" width="1" height="26" fill="#32cd32"/>
<rect x="788" y="300" width="5" height="23" fill="#32cd32"/>
<rect x="798" y="298" width="1" height="28" fill="#ff4500"/>
<rect x="796" y="312" width="5" height="10" fill="#ff4500"/>
<rect x="806" y="287" width="1" height="47" fill="#ff4500"/>
<rect x="804" y="306" width="5" height="6" fill="#ff4500"/>
<rect x="814" y="200" width="1" height="144" fill="#ff4500"/>
<rect x="812" y="238" width="5" height="68" fill="#ff4500"/>
<rect x="822" y="227" width="1" height="36" fill="#32cd32"/>
<rect x="820" y="239" width="5" height="6" fill="#32cd32"/>
<rect x="830" y="236" width="1" height="9" fill="#ff4500"/>
<rect x="828" y="238" width="5" height="6" fill="#ff4500"/>
<rect x="838" y="233" width="1" height="18" fill="#32cd32"/>
<rect x="836" y="240" width="5" height="10" fill="#32cd32"/>
<rect x="846" y="244" width="1" height="14" fill="#ff4500"/>
<rect x="844" y="250" width="5" height="3" fill="#ff4500"/>
<rect x="854" y="240" width="1" height="16" fill="#ff4500"/>
<rect x="852" y="247" width="5" height="3" fill="#ff4500"/>
<rect x="862" y="245" width="1" height="44" fill="#32cd32"/>
<rect x="860" y="248" width="5" height="36" fill="#32cd32"/>
<rect x="870" y="231" width="1" height="58" fill="#ff4500"/>
<rect x="868" y="251" width="5" height="33" fill="#ff4500"/>
<rect x="878" y="226" width="1" height="31" fill="#ff4500"/>
<rect x="876" y="249" width="5" height="2" fill="#ff4500"/>
<rect x="886" y="246" width="1" height="14" fill="#32cd32"/>
<rect x="884" y="248" width="5" height="11" fill="#32cd32"/>
<rect x="894" y="246" width="1" height="15" fill="#ff4500"/>
<rect x="892" y="252" width="5" height="8" fill="#ff4500"/>
<rect x="902" y="243" width="1" height="24" fill="#32cd32"/>
<rect x="900" y="253" width="5" height="5" fill="#32cd32"/>
<rect x="910" y="213" width="1" height="64" fill="#32cd32"/>
<rect x="908" y="257" width="5" height="15" fill="#32cd32"/>
<rect x="918" y="226" width="1" height="51" fill="#ff4500"/>
<rect x="916" y="241" width="5" height="32" fill="#ff4500"/>
<rect x="926" y="220" width="1" height="26" fill="#ff4500"/>
<rect x="924" y="233" width="5" height="8" fill="#ff4500"/>
<rect x="934" y="231" width="1" height="26" fill="#32cd32"/>
<rect x="932" y="233" width="5" height="20" fill="#32cd32"/>
<rect x="942" y="262" width="1" height="10" fill="#32cd32"/>
<rect x="940" y="262" width="5" height="4" fill="#32cd32"/>
<rect x="950" y="261" width="1" height="14" fill="#ff4500"/>
<rect x="948" y="263" width="5" height="4" fill="#ff4500"/>
<rect x="958" y="243" width="1" height="32" fill="#000000"/>
<rect x="956" y="262" width="5" height="1" fill="#000000"/>
<rect x="966" y="250" width="1" height="82" fill="#32cd32"/>
<rect x="964" y="263" width="5" height="38" fill="#32cd32"/>
<rect x="974" y="264" width="1" height="42" fill="#ff4500"/>
<rect x="972" y="274" width="5" height="28" fill="#ff4500"/>
<rect x="982" y="263" width="1" height="12" fill="#ff4500"/>
<rect x="980" y="267" width="5" height="6" fill="#ff4500"/>
<rect x="990" y="260" width="1" height="10" fill="#ff4500"/>
<rect x="988" y="262" width="5" height="6" fill="#ff4500"/>
<rect x="998" y="253" width="1" height="17" fill="#ff4500"/>
<rect x="996" y="261" width="5" height="3" fill="#ff4500"/>
<rect x="1006" y="234" width="1" height="31" fill="#ff4500"/>
<rect x="1004" y="247" width="5" height="14" fill="#ff4500"/>
<rect x="1014" y="202" width="1" height="69" fill="#ff4500"/>
<rect x="1012" y="233" width="5" height="15" fill="#ff4500"/>
<rect x="1022" y="219" width="1" height="32" fill="#32cd32"/>
<rect x="1020" y="233" width="5" height="6" fill="#32cd32"/>
<rect x="1030" y="221" width="1" height="20" fill="#ff4500"/>
<rect x="1028" y="228" width="5" height="10" fill="#ff4500"/>
<rect x="1038" y="212" width="1" height="12" fill="#ff4500"/>
<rect x="1036" y="218" width="5" height="2" fill="#ff4500"/>
<rect x="1046" y="202" width="1" height="19" fill="#ff4500"/>
<rect x="1044" y="207" width="5" height="12" fill="#ff4500"/>
<rect x="1054" y="171" width="1" height="38" fill="#ff4500"/>
<rect x="1052" y="193" width="5" height="14" fill="#ff4500"/>
<rect x="1062" y="135" width="1" height="92" fill="#ff4500"/>
<rect x="1060" y="187" width="5" height="8" fill="#ff4500"/>
<rect x="1070" y="172" width="1" height="28" fill="#32cd32"/>
<rect x="1068" y="186" width="5" height="12" fill="#32cd32"/>
<rect x="1078" y="192" width="1" height="8" fill="#ff4500"/>
<rect x="1076" y="195" width="5" height="3" fill="#ff4500"/>
<rect x="1086" y="187" width="1" height="14" fill="#32cd32"/>
<rect x="1084" y="190" width="5" height="10" fill="#32cd32"/>
<rect x="1094" y="187" width="1" height="13" fill="#ff4500"/>
<rect x="1092" y="191" width="5" height="8" fill="#ff4500"/>
<rect x="1102" y="180" width="1" height="13" fill="#ff4500"/>
<rect x="1100" y="183" width="5" height="10" fill="#ff4500"/>
<rect x="1110" y="161" width="1" height="23" fill="#ff4500"/>
<rect x="1108" y="166" width="5" height="17" fill="#ff4500"/>
<rect x="1118" y="145" width="1" height="25" fill="#ff4500"/>
<rect x="1116" y="152" width="5" height="16" fill="#ff4500"/>
<rect x="1126" y="149" width="1" height="22" fill="#32cd32"/>
<rect x="1124" y="152" width="5" height="13" fill="#32cd32"/>
<rect x="1134" y="163" width="1" height="9" fill="#32cd32"/>
<rect x="1132" y="165" width="5" height="7" fill="#32cd32"/>
<rect x="1142" y="165" width="1" height="7" fill="#ff4500"/>
<rect x="1140" y="166" width="5" height="4" fill="#ff4500"/>
<rect x="1150" y="151" width="1" height="24" fill="#32cd32"/>
<rect x="1148" y="165" width="5" height="10" fill="#32cd32"/>
<rect x="1158" y="147" width="1" height="37" fill="#ff4500"/>
<rect x="1156" y="151" width="5" height="23" fill="#ff4500"/>
<rect x="1166" y="104" width="1" height="53" fill="#ff4500"/>
<rect x="1164" y="116" width="5" height="35" fill="#ff4500"/>
<rect x="1174" y="105" width="1" height="20" fill="#ff4500"/>
<rect x="1172" y="111" width="5" height="6" fill="#ff4500"/>
<rect x="1182" y="109" width="1" height="30" fill="#32cd32"/>
<rect x="1180" y="110" width="5" height="26" fill="#32cd32"/>
<rect x="1190" y="127" width="1" height="14" fill="#32cd32"/>
<rect x="1188" y="136" width="5" height="3" fill="#32cd32"/>
<rect x="1198" y="129" width="1" height="16" fill="#32cd32"/>
<rect x="1196" y="138" width="5" height="1" fill="#32cd32"/>
<rect x="1206" y="119" width="1" height="33" fill="#ff4500"/>
<rect x="1204" y="125" width="5" height="16" fill="#ff4500"/>
<rect x="1214" y="90" width="1" height="56" fill="#ff4500"/>
<rect x="1212" y="109" width="5" height="18" fill="#ff4500"/>
<rect x="1222" y="93" width="1" height="22" fill="#ff4500"/>
<rect x="1220" y="108" width="5" height="2" fill="#ff4500"/>
<rect x="1230" y="104" width="1" height="13" fill="#32cd32"/>
<rect x="1228" y="107" width="5" height="3" fill="#32cd32"/>
<rect x="1238" y="105" width="1" height="8" fill="#32cd32"/>
<rect x="1236" y="107" width="5" height="4" fill="#32cd32"/>
<rect x="1246" y="102" width="1" height="17" fill="#32cd32"/>
<rect x="1244" y="111" width="5" height="7" fill="#32cd32"/>
<rect x="1254" y="99" width="1" height="19" fill="#ff4500"/>
<rect x="1252" y="107" width="5" height="10" fill="#ff4500"/>
<rect x="1262" y="66" width="1" height="51" fill="#ff4500"/>
<rect x="1260" y="78" width="5" height="29" fill="#ff4500"/>
<rect x="1270" y="75" width="1" height="23" fill="#32cd32"/>
<rect x="1268" y="77" width="5" height="10" fill="#32cd32"/>
<rect x="1278" y="74" width="1" height="16" fill="#ff4500"/>
<rect x="1276" y="80" width="5" height="6" fill="#ff4500"/>
<rect x="1286" y="76" width="1" height="8" fill="#ff4500"/>
<rect x="1284" y="78" width="5" height="1" fill="#ff4500"/>
<rect x="1294" y="71" width="1" height="17" fill="#32cd32"/>
<rect x="1292" y="79" width="5" height="8" fill="#32cd32"/>
<rect x="1302" y="83" width="1" height="24" fill="#32cd32"/>
<rect x="1300" y="85" width="5" height="14" fill="#32cd32"/>
<rect x="1310" y="80" width="1" height="59" fill="#32cd32"/>
<rect x="1308" y="97" width="5" height="23" fill="#32cd32"/>
<rect x="1318" y="103" width="1" height="26" fill="#ff4500"/>
<rect x="1316" y="119" width="5" height="2" fill="#ff4500"/>
<rect x="1326" y="116" width="1" height="5" fill="#ff4500"/>
<rect x="1324" y="118" width="5" height="2" fill="#ff4500"/>
<rect x="5" y="41" width="1671" height="1" fill="#000"/>
<rect x="5" y="534" width="1671" height="1" fill="#000"/>
<rect x="5" y="41" width="1" height="494" fill="#000"/>
<rect x="1675" y="41" width="1" height="494" fill="#000"/>
<rect x="1675" y="47" width="1" height="2" fill="#ff0000"/>
<rect x="1675" y="252" width="1" height="2" fill="#00ff7f"/>
<rect x="1675" y="399" width="1" height="2" fill="#0000ff"/>
<rect x="5" y="536" width="1671" height="1" fill="#000"/>
<rect x="5" y="597" width="1671" height="1" fill="#000"/>
<rect x="5" y="536" width="1" height="62" fill="#000"/>
<rect x="1675" y="536" width="1" height="62" fill="#000"/>
<rect x="5" y="599" width="1671" height="1" fill="#000"/>
<rect x="5" y="727" width="1671" height="1" fill="#000"/>
<rect x="5" y="599" width="1" height="129" fill="#000"/>
<rect x="1675" y="599" width="1" height="129" fill="#000"/>
<rect x="22" y="566" width="1" height="2" fill="#c0c0c0"/>
<rect x="30" y="564" width="1" height="4" fill="#c0c0c0"/>
<rect x="38" y="562" width="1" height="6" fill="#c0c0c0"/>
<rect x="46" y="562" width="1" height="6" fill="#c0c0c0"/>
<rect x="54" y="563" width="1" height="5" fill="#c0c0c0"/>
<rect x="62" y="564" width="1" height="4" fill="#c0c0c0"/>
<rect x="70" y="564" width="1" height="4" fill="#c0c0c0"/>
<rect x="78" y="564" width="1" height="4" fill="#c0c0c0"/>
<rect x="86" y="565" width="1" height="3" fill="#c0c0c0"/>
<rect x="94" y="563" width="1" height="5" fill="#c0c0c0"/>
<rect x="102" y="561" width="1" height="7" fill="#c0c0c0"/>
<rect x="110" y="558" width="1" height="10" fill="#c0c0c0"/>
<rect x="118" y="557" width="1" height="11" fill="#c0c0c0"/>
<rect x="126" y="556" width="1" height="12" fill="#c0c0c0"/>
<rect x="134" y="556" width="1" height="12" fill="#c0c0c0"/>
<rect x="142" y="555" width="1" height="13" fill="#c0c0c0"/>
<rect x="150" y="557" width="1" height="11" fill="#c0c0c0"/>
<rect x="158" y="561" width="1" height="7" fill="#c0c0c0"/>
<rect x="166" y="564" width="1" height="4" fill="#c0c0c0"/>
<rect x="174" y="566" width="1" height="2" fill="#c0c0c0"/>
<rect x="182" y="567" width="1" height="1" fill="#c0c0c0"/>
<rect x="190" y="568" width="1" height="2" fill="#c0c0c0"/>
<rect x="198" y="568" width="1" height="6" fill="#c0c0c0"/>
<rect x="206" y="568" width="1" height="11" fill="#c0c0c0"/>
<rect x="214" y="568" width="1" height="15" fill="#c0c0c0"/>
<rect x="222" y="568" width="1" height="18" fill="#c0c0c0"/>
<rect x="230" y="568" width="1" height="22" fill="#c0c0c0"/>
<rect x="238" y="568" width="1" height="22" fill="#c0c0c0"/>
<rect x="246" y="568" width="1" height="17" fill="#c0c0c0"/>
<rect x="254" y="568" width="1" height="13" fill="#c0c0c0"/>
<rect x="262" y="568" width="1" height="9" fill="#c0c0c0"/>
<rect x="270" y="568" width="1" height="7" fill="#c0c0c0"/>
<rect x="278" y="568" width="1" height="6" fill="#c0c0c0"/>
<rect x="286" y="568" width="1" height="4" fill="#c0c0c0"/>
<rect x="302" y="562" width="1" height="6" fill="#c0c0c0"/>
<rect x="310" y="557" width="1" height="11" fill="#c0c0c0"/>
<rect x="318" y="554" width="1" height="14" fill="#c0c0c0"/>
<rect x="326" y="551" width="1" height="17" fill="#c0c0c0"/>
<rect x="334" y="549" width="1" height="19" fill="#c0c0c0"/>
<rect x="342" y="549" width="1" height="19" fill="#c0c0c0"/>
<rect x="350" y="549" width="1" height="19" fill="#c0c0c0"/>
<rect x="358" y="549" width="1" height="19" fill="#c0c0c0"/>
<rect x="366" y="550" width="1" height="18" fill="#c0c0c0"/>
<rect x="374" y="550" width="1" height="18" fill="#c0c0c0"/>
<rect x="382" y="550" width="1" height="18" fill="#c0c0c0"/>
<rect x="390" y="551" width="1" height="17" fill="#c0c0c0"/>
<rect x="398" y="552" width="1" height="16" fill="#c0c0c0"/>
<rect x="406" y="554" width="1" height="14" fill="#c0c0c0"/>
<rect x="414" y="558" width="1" height="10" fill="#c0c0c0"/>
<rect x="422" y="561" width="1" height="7" fill="#c0c0c0"/>
<rect x="430" y="564" width="1" height="4" fill="#c0c0c0"/>
<rect x="438" y="565" width="1" height="3" fill="#c0c0c0"/>
<rect x="446" y="565" width="1" height="3" fill="#c0c0c0"/>
<rect x="454" y="566" width="1" height="2" fill="#c0c0c0"/>
<rect x="462" y="566" width="1" height="2" fill="#c0c0c0"/>
<rect x="470" y="566" width="1" height="2" fill="#c0c0c0"/>
<rect x="478" y="566" width="1" height="2" fill="#c0c0c0"/>
<rect x="486" y="567" width="1" height="1" fill="#c0c0c0"/>
<rect x="574" y="568" width="1" height="7" fill="#c0c0c0"/>
<rect x="582" y="568" width="1" height="15" fill="#c0c0c0"/>
<rect x="590" y="568" width="1" height="19" fill="#c0c0c0"/>
<rect x="598" y="568" width="1" height="22" fill="#c0c0c0"/>
<rect x="606" y="568" width="1" height="22" fill="#c0c0c0"/>
<rect x="614" y="568" width="1" height="21" fill="#c0c0c0"/>
<rect x="622" y="568" width="1" height="22" fill="#c0c0c0"/>
<rect x="630" y="568" width="1" height="24" fill="#c0c0c0"/>
<rect x="638" y="568" width="1" height="24" fill="#c0c0c0"/>
<rect x="646" y="568" width="1" height="25" fill="#c0c0c0"/>
<rect x="654" y="568" width="1" height="24" fill="#c0c0c0"/>
<rect x="662" y="568" width="1" height="26" fill="#c0c0c0"/>
<rect x="670" y="568" width="1" height="26" fill="#c0c0c0"/>
<rect x="678" y="568" width="1" height="25" fill="#c0c0c0"/>
<rect x="686" y="568" width="1" height="22" fill="#c0c0c0"/>
<rect x="694" y="568" width="1" height="21" fill="#c0c0c0"/>
<rect x="702" y="568" width="1" height="19" fill="#c0c0c0"/>
<rect x="710" y="568" width="1" height="16" fill="#c0c0c0"/>
<rect x="718" y="568" width="1" height="8" fill="#c0c0c0"/>
<rect x="726" y="568" width="1" height="2" fill="#c0c0c0"/>
<rect x="734" y="567" width="1" height="1" fill="#c0c0c0"/>
<rect x="742" y="562" width="1" height="6" fill="#c0c0c0"/>
<rect x="750" y="559" width="1" height="9" fill="#c0c0c0"/>
<rect x="758" y="556" width="1" height="12" fill="#c0c0c0"/>
<rect x="766" y="553" width="1" height="15" fill="#c0c0c0"/>
<rect x="774" y="551" width="1" height="17" fill="#c0c0c0"/>
<rect x="782" y="550" width="1" height="18" fill="#c0c0c0"/>
<rect x="790" y="550" width="1" height="18" fill="#c0c0c0"/>
<rect x="798" y="550" width="1" height="18" fill="#c0c0c0"/>
<rect x="806" y="549" width="1" height="19" fill="#c0c0c0"/>
<rect x="814" y="546" width="1" height="22" fill="#c0c0c0"/>
<rect x="822" y="544" width="1" height="24" fill="#c0c0c0"/>
<rect x="830" y="542" width="1" height="26" fill="#c0c0c0"/>
<rect x="838" y="541" width="1" height="27" fill="#c0c0c0"/>
<rect x="846" y="541" width="1" height="27" fill="#c0c0c0"/>
<rect x="854" y="541" width="1" height="27" fill="#c0c0c0"/>
<rect x="862" y="542" width="1" height="26" fill="#c0c0c0"/>
<rect x="870" y="543" width="1" height="25" fill="#c0c0c0"/>
<rect x="878" y="544" width="1" height="24" fill="#c0c0c0"/>
<rect x="886" y="544" width="1" height="24" fill="#c0c0c0"/>
<rect x="894" y="546" width="1" height="22" fill="#c0c0c0"/>
<rect x="902" y="546" width="1" height="22" fill="#c0c0c0"/>
<rect x="910" y="548" width="1" height="20" fill="#c0c0c0"/>
<rect x="918" y="548" width="1" height="20" fill="#c0c0c0"/>
<rect x="926" y="548" width="1" height="20" fill="#c0c0c0"/>
<rect x="934" y="550" width="1" height="18" fill="#c0c0c0"/>
<rect x="942" y="552" width="1" height="16" fill="#c0c0c0"/>
<rect x="950" y="554" width="1" height="14" fill="#c0c0c0"/>
<rect x="958" y="555" width="1" height="13" fill="#c0c0c0"/>
<rect x="966" y="558" width="1" height="10" fill="#c0c0c0"/>
<rect x="974" y="560" width="1" height="8" fill="#c0c0c0"/>
<rect x="982" y="561" width="1" height="7" fill="#c0c0c0"/>
<rect x="990" y="561" width="1" height="7" fill="#c0c0c0"/>
<rect x="998" y="561" width="1" height="7" fill="#c0c0c0"/>
<rect x="1006" y="560" width="1" height="8" fill="#c0c0c0"/>
<rect x="1014" y="560" width="1" height="8" fill="#c0c0c0"/>
<rect x="1022" y="559" width="1" height="9" fill="#c0c0c0"/>
<rect x="1030" y="560" width="1" height="8" fill="#c0c0c0"/>
<rect x="1038" y="559" width="1" height="9" fill="#c0c0c0"/>
<rect x="1046" y="557" width="1" height="11" fill="#c0c0c0"/>
<rect x="1054" y="555" width="1" height="13" fill="#c0c0c0"/>
<rect x="1062" y="553" width="1" height="15" fill="#c0c0c0"/>
<rect x="1070" y="553" width="1" height="15" fill="#c0c0c0"/>
<rect x="1078" y="552" width="1" height="16" fill="#c0c0c0"/>
<rect x="1086" y="553" width="1" height="15" fill="#c0c0c0"/>
<rect x="1094" y="553" width="1" height="15" fill="#c0c0c0"/>
<rect x="1102" y="552" width="1" height="16" fill="#c0c0c0"/>
<rect x="1110" y="552" width="1" height="16" fill="#c0c0c0"/>
<rect x="1118" y="550" width="1" height="18" fill="#c0c0c0"/>
<rect x="1126" y="550" width="1" height="18" fill="#c0c0c0"/>
<rect x="1134" y="550" width="1" height="18" fill="#c0c0c0"/>
<rect x="1142" y="550" width="1" height="18" fill="#c0c0c0"/>
<rect x="1150" y="550" width="1" height="18" fill="#c0c0c0"/>
<rect x="1158" y="550" width="1" height="18" fill="#c0c0c0"/>
<rect x="1166" y="547" width="1" height="21" fill="#c0c0c0"/>
<rect x="1174" y="547" width="1" height="21" fill="#c0c0c0"/>
<rect x="1182" y="548" width="1" height="20" fill="#c0c0c0"/>
<rect x="1190" y="548" width="1" height="20" fill="#c0c0c0"/>
<rect x="1198" y="549" width="1" height="19" fill="#c0c0c0"/>
<rect x="1206" y="549" width="1" height="19" fill="#c0c0c0"/>
<rect x="1214" y="548" width="1" height="20" fill="#c0c0c0"/>
<rect x="1222" y="548" width="1" height="20" fill="#c0c0c0"/>
<rect x="1230" y="548" width="1" height="20" fill="#c0c0c0"/>
<rect x="1238" y="548" width="1" height="20" fill="#c0c0c0"/>
<rect x="1246" y="549" width="1" height="19" fill="#c0c0c0"/>
<rect x="1254" y="549" width="1" height="19" fill="#c0c0c0"/>
<rect x="1262" y="548" width="1" height="20" fill="#c0c0c0"/>
<rect x="1270" y="547" width="1" height="21" fill="#c0c0c0"/>
<rect x="1278" y="547" width="1" height="21" fill="#c0c0c0"/>
<rect x="1286" y="547" width="1" height="21" fill="#c0c0c0"/>
<rect x="1294" y="547" width="1" height="21" fill="#c0c0c0"/>
<rect x="1302" y="548" width="1" height="20" fill="#c0c0c0"/>
<rect x="1310" y="552" width="1" height="16" fill="#c0c0c0"/>
<rect x="1318" y="555" width="1" height="13" fill="#c0c0c0"/>
<rect x="1326" y="557" width="1" height="11" fill="#c0c0c0"/>
<path d="M6.5 567v1M7.5 567v1M8.5 567v1M12.5 567v1M13.5 567v1M14.5 567v1M18.5 567v1M19.5 566v1M20.5 566v1M24.5 566v1M25.5 566v1M26.5 566v1M30.5 566v1M31.5 566v1M32.5 566v1M36.5 566v1M37.5 566v1M38.5 566v1M42.5 566v1M43.5 566v1M44.5 566v1M48.5 566v1M49.5 565v1M50.5 565v1M54.5 565v1M55.5 565v1M56.5 565v1M60.5 564v1M61.5 564v1M62.5 564v1M66.5 564v1M67.5 564v1M68.5 564v1M72.5 563v1M73.5 563v1M74.5 563v1M78.5 563v1M79.5 563v1M80.5 563v1M84.5 563v1M85.5 563v1M86.5 563v1M90.5 563v1M91.5 563v1M92.5 563v1M96.5 563v1M97.5 562v1M98.5 562v1M102.5 562v1M103.5 562v1M104.5 562v1M108.5 561v1M109.5 561v1M110.5 561v1M114.5 561v1M115.5 561v1M116.5 560v1M120.5 560v1M121.5 560v1M122.5 560v1M126.5 560v1M127.5 559v1M128.5 559v1M132.5 559v1M133.5 559v1M134.5 559v1M138.5 559v1M139.5 558v1M140.5 558v1M144.5 558v1M145.5 558v1M146.5 558v1M150.5 558v1M151.5 557v1M152.5 557v1M156.5 557v1M157.5 557v1M158.5 557v1M162.5 557v1M163.5 557v1M164.5 557v1M168.5 557v1M169.5 557v1M170.5 557v1M174.5 557v1M175.5 557v1M176.5 557v1M180.5 558v1M181.5 558v1M182.5 558v1M186.5 558v1M187.5 559v1M188.5 559v1M192.5 560v1M193.5 560v1M194.5 560v1M198.5 562v1M199.5 562v1M200.5 562v1M204.5 564v1M205.5 564v1M206.5 565v1M210.5 566v1M211.5 567v1M212.5 567v1M216.5 569v1M217.5 569v1M218.5 570v1M222.5 571v1M223.5 572v1M224.5 572v1M228.5 573v1M229.5 574v1M230.5 574v1M234.5 576v1M235.5 576v1M236.5 577v1M240.5 578v1M241.5 578v1M242.5 578v1M246.5 579v1M247.5 580v1M248.5 580v1M252.5 581v1M253.5 581v1M254.5 581v1M258.5 582v1M259.5 582v1M260.5 582v1M264.5 582v1M265.5 582v1M266.5 582v1M270.5 583v1M271.5 582v1M272.5 582v1M276.5 582v1M277.5 582v1M278.5 582v1M282.5 581v1M283.5 581v1M284.5 581v1M288.5 580v1M289.5 580v1M290.5 579v1M294.5 578v1M295.5 578v1M296.5 577v1M300.5 576v1M301.5 576v1M302.5 576v1M306.5 574v1M307.5 573v1M308.5 573v1M312.5 571v1M313.5 570v1M314.5 570v1M318.5 568v1M319.5 567v1M320.5 567v1M324.5 565v1M325.5 565v1M326.5 564v1M330.5 563v1M331.5 562v1M332.5 562v1M336.5 560v1M337.5 560v1M338.5 560v1M342.5 558v1M343.5 558v1M344.5 557v1M348.5 556v1M349.5 555v1M350.5 555v1M354.5 554v1M355.5 554v1M356.5 553v1M360.5 552v1M361.5 552v1M362.5 552v1M366.5 551v1M367.5 551v1M368.5 551v1M372.5 550v1M373.5 550v1M374.5 550v1M378.5 550v1M379.5 550v1M380.5 549v1M384.5 549v1M385.5 549v1M386.5 549v1M390.5 549v1M391.5 549v1M392.5 549v1M396.5 549v1M397.5 549v1M398.5 549v1M402.5 549v1M403.5 549v1M404.5 550v1M408.5 550v1M409.5 550v1M410.5 550v1M414.5 551v1M415.5 551v1M416.5 551v1M420.5 551v1M421.5 552v1M422.5 552v1M426.5 552v1M427.5 552v1M428.5 552v1M432.5 553v1M433.5 553v1M434.5 553v1M438.5 554v1M439.5 554v1M440.5 554v1M444.5 556v1M445.5 556v1M446.5 557v1M450.5 557v1M451.5 557v1M452.5 558v1M456.5 558v1M457.5 558v1M458.5 558v1M462.5 559v1M463.5 559v1M464.5 560v1M468.5 561v1M469.5 561v1M470.5 561v1M474.5 562v1M475.5 562v1M476.5 562v1M480.5 563v1M481.5 563v1M482.5 563v1M486.5 564v1M487.5 564v1M488.5 564v1M492.5 564v1M493.5 564v1M494.5 565v1M498.5 565v1M499.5 565v1M500.5 565v1M504.5 565v1M505.5 565v1M506.5 565v1M510.5 565v1M511.5 565v1M512.5 565v1M516.5 566v1M517.5 566v1M518.5 566v1M522.5 566v1M523.5 566v1M524.5 566v1M528.5 566v1M529.5 566v1M530.5 566v1M534.5 567v1M535.5 567v1M536.5 567v1M540.5 567v1M541.5 567v1M542.5 567v1M546.5 567v1M547.5 567v1M548.5 567v1M552.5 567v1M553.5 568v1M554.5 568v1M558.5 568v1M559.5 568v1M560.5 568v1M564.5 568v1M565.5 568v1M566.5 568v1M570.5 568v1M571.5 569v1M572.5 569v1M576.5 570v1M577.5 570v1M578.5 570v1M582.5 571v1M583.5 571v1M584.5 571v1M588.5 573v1M589.5 573v1M590.5 573v1M594.5 574v1M595.5 575v1M596.5 575v1M600.5 576v1M601.5 576v1M602.5 577v1M606.5 578v1M607.5 578v1M608.5 578v1M612.5 579v1M613.5 579v1M614.5 580v1M618.5 581v1M619.5 581v1M620.5 581v1M624.5 583v1M625.5 583v1M626.5 583v1M630.5 584v1M631.5 585v1M632.5 585v1M636.5 587v1M637.5 587v1M638.5 587v1M642.5 588v1M643.5 589v1M644.5 589v1M648.5 590v1M649.5 590v1M650.5 590v1M654.5 591v1M655.5 591v1M656.5 591v1M660.5 591v1M661.5 591v1M662.5 591v1M666.5 592v1M667.5 592v1M668.5 592v1M672.5 592v1M673.5 592v1M674.5 592v1M678.5 592v1M679.5 592v1M680.5 592v1M684.5 592v1M685.5 592v1M686.5 592v1M690.5 592v1M691.5 592v1M692.5 592v1M696.5 592v1M697.5 592v1M698.5 592v1M702.5 592v1M703.5 592v1M704.5 591v1M708.5 591v1M709.5 591v1M710.5 591v1M714.5 589v1M715.5 589v1M716.5 589v1M720.5 587v1M721.5 587v1M722.5 587v1M726.5 585v1M727.5 585v1M728.5 584v1M732.5 583v1M733.5 583v1M734.5 582v1M738.5 581v1M739.5 580v1M740.5 580v1M744.5 579v1M745.5 578v1M746.5 578v1M750.5 576v1M751.5 576v1M752.5 576v1M756.5 574v1M757.5 573v1M758.5 573v1M762.5 571v1M763.5 570v1M764.5 570v1M768.5 567v1M769.5 567v1M770.5 566v1M774.5 564v1M775.5 563v1M776.5 563v1M780.5 560v1M781.5 560v1M782.5 559v1M786.5 558v1M787.5 558v1M788.5 558v1M792.5 556v1M793.5 556v1M794.5 556v1M798.5 555v1M799.5 554v1M800.5 554v1M804.5 553v1M805.5 553v1M806.5 553v1M810.5 552v1M811.5 551v1M812.5 551v1M816.5 551v1M817.5 550v1M818.5 550v1M822.5 550v1M823.5 549v1M824.5 549v1M828.5 549v1M829.5 548v1M830.5 548v1M834.5 547v1M835.5 547v1M836.5 547v1M840.5 546v1M841.5 545v1M842.5 545v1M846.5 545v1M847.5 544v1M848.5 544v1M852.5 544v1M853.5 544v1M854.5 544v1M858.5 543v1M859.5 543v1M860.5 543v1M864.5 543v1M865.5 543v1M866.5 543v1M870.5 542v1M871.5 542v1M872.5 542v1M876.5 542v1M877.5 542v1M878.5 542v1M882.5 542v1M883.5 542v1M884.5 542v1M888.5 542v1M889.5 542v1M890.5 542v1M894.5 542v1M895.5 542v1M896.5 542v1M900.5 542v1M901.5 543v1M902.5 543v1M906.5 543v1M907.5 543v1M908.5 544v1M912.5 544v1M913.5 544v1M914.5 544v1M918.5 544v1M919.5 545v1M920.5 545v1M924.5 545v1M925.5 545v1M926.5 545v1M930.5 545v1M931.5 546v1M932.5 546v1M936.5 546v1M937.5 546v1M938.5 546v1M942.5 547v1M943.5 547v1M944.5 547v1M948.5 547v1M949.5 547v1M950.5 547v1M954.5 548v1M955.5 548v1M956.5 548v1M960.5 549v1M961.5 549v1M962.5 550v1M966.5 550v1M967.5 551v1M968.5 551v1M972.5 552v1M973.5 552v1M974.5 552v1M978.5 553v1M979.5 553v1M980.5 553v1M984.5 553v1M985.5 554v1M986.5 554v1M990.5 554v1M991.5 554v1M992.5 555v1M996.5 555v1M997.5 555v1M998.5 556v1M1002.5 556v1M1003.5 556v1M1004.5 556v1M1008.5 557v1M1009.5 557v1M1010.5 557v1M1014.5 558v1M1015.5 558v1M1016.5 558v1M1020.5 558v1M1021.5 559v1M1022.5 559v1M1026.5 559v1M1027.5 559v1M1028.5 559v1M1032.5 559v1M1033.5 559v1M1034.5 559v1M1038.5 559v1M1039.5 559v1M1040.5 559v1M1044.5 559v1M1045.5 559v1M1046.5 558v1M1050.5 558v1M1051.5 558v1M1052.5 558v1M1056.5 558v1M1057.5 558v1M1058.5 557v1M1062.5 557v1M1063.5 557v1M1064.5 557v1M1068.5 556v1M1069.5 556v1M1070.5 556v1M1074.5 555v1M1075.5 555v1M1076.5 555v1M1080.5 555v1M1081.5 555v1M1082.5 555v1M1086.5 554v1M1087.5 554v1M1088.5 554v1M1092.5 554v1M1093.5 554v1M1094.5 553v1M1098.5 553v1M1099.5 553v1M1100.5 553v1M1104.5 553v1M1105.5 553v1M1106.5 552v1M1110.5 552v1M1111.5 552v1M1112.5 552v1M1116.5 552v1M1117.5 552v1M1118.5 552v1M1122.5 551v1M1123.5 551v1M1124.5 551v1M1128.5 551v1M1129.5 551v1M1130.5 551v1M1134.5 551v1M1135.5 551v1M1136.5 551v1M1140.5 551v1M1141.5 551v1M1142.5 551v1M1146.5 550v1M1147.5 550v1M1148.5 550v1M1152.5 550v1M1153.5 550v1M1154.5 550v1M1158.5 550v1M1159.5 550v1M1160.5 550v1M1164.5 550v1M1165.5 550v1M1166.5 550v1M1170.5 549v1M1171.5 549v1M1172.5 549v1M1176.5 549v1M1177.5 549v1M1178.5 549v1M1182.5 549v1M1183.5 549v1M1184.5 549v1M1188.5 549v1M1189.5 549v1M1190.5 549v1M1194.5 549v1M1195.5 549v1M1196.5 549v1M1200.5 549v1M1201.5 549v1M1202.5 549v1M1206.5 549v1M1207.5 549v1M1208.5 549v1M1212.5 548v1M1213.5 548v1M1214.5 548v1M1218.5 548v1M1219.5 548v1M1220.5 548v1M1224.5 548v1M1225.5 548v1M1226.5 548v1M1230.5 548v1M1231.5 548v1M1232.5 548v1M1236.5 548v1M1237.5 548v1M1238.5 548v1M1242.5 548v1M1243.5 548v1M1244.5 548v1M1248.5 548v1M1249.5 548v1M1250.5 548v1M1254.5 548v1M1255.5 548v1M1256.5 548v1M1260.5 548v1M1261.5 548v1M1262.5 548v1M1266.5 548v1M1267.5 548v1M1268.5 548v1M1272.5 548v1M1273.5 548v1M1274.5 548v1M1278.5 548v1M1279.5 548v1M1280.5 548v1M1284.5 548v1M1285.5 548v1M1286.5 548v1M1290.5 548v1M1291.5 548v1M1292.5 548v1M1296.5 548v1M1297.5 548v1M1298.5 548v1M1302.5 548v1M1303.5 548v1M1304.5 548v1M1308.5 548v1M1309.5 548v1M1310.5 548v1M1314.5 549v1M1315.5 549v1M1316.5 549v1M1320.5 549v1M1321.5 549v1M1322.5 549v1M1326.5 549v1" stroke="#ff0000" stroke-width="1" fill="none"/>
<line x1="6" y1="638.5" x2="1675" y2="638.5" stroke="#c0c0c0" stroke-width="1" stroke-dasharray="3 3" shape-rendering="crispEdges"/>
<line x1="6" y1="689.5" x2="1675" y2="689.5" stroke="#c0c0c0" stroke-width="1" stroke-dasharray="3 3" shape-rendering="crispEdges"/>
<path d="M6.5 656v1M7.5 656v1M8.5 656v1M9.5 656v1M10.5 655v1M11.5 655v1M12.5 655v1M13.5 655v1M14.5 655v1M15.5 655v1M16.5 654v1M17.5 654v1M18.5 654v1M19.5 654v1M20.5 654v1M21.5 653v1M22.5 653v1M23.5 653v1M24.5 653v1M25.5 653v1M26.5 653v1M27.5 653v1M28.5 653v1M29.5 653v1M30.5 653v1M31.5 652v1M32.5 652v1M33.5 651v1M34.5 651v1M35.5 650v1M36.5 649v1M37.5 649v1M38.5 648v1M39.5 649v1M40.5 650v1M41.5 651v2M42.5 653v1M43.5 654v2M44.5 656v1M45.5 657v2M46.5 659v1M47.5 659v1M48.5 660v1M49.5 660v1M50.5 660v1M51.5 660v1M52.5 660v1M53.5 661v1M54.5 661v1M55.5 661v1M56.5 661v1M57.5 661v1M58.5 661v1M59.5 661v1M60.5 661v1M61.5 661v1M62.5 661v1M63.5 661v1M64.5 660v1M65.5 660v1M66.5 660v1M67.5 659v1M68.5 659v1M69.5 658v1M70.5 658v1M71.5 658v1M72.5 659v1M73.5 660v1M74.5 661v1M75.5 662v1M76.5 663v1M77.5 664v1M78.5 665v1M79.5 666v1M80.5 666v1M81.5 667v1M82.5 667v1M83.5 668v1M84.5 668v1M85.5 669v1M86.5 669v1M87.5 666v3M88.5 664v2M89.5 661v3M90.5 658v3M91.5 656v2M92.5 653v3M93.5 650v3M94.5 649v1M95.5 648v1M96.5 648v1M97.5 648v1M98.5 648v1M99.5 648v1M100.5 648v1M101.5 648v1M102.5 648v1M103.5 648v1M104.5 647v1M105.5 647v1M106.5 647v1M107.5 647v1M108.5 647v1M109.5 647v1M110.5 647v1M111.5 647v1M112.5 647v1M113.5 647v1M114.5 648v1M115.5 648v1M116.5 648v1M117.5 648v1M118.5 649v1M119.5 649v1M120.5 649v1M121.5 649v1M122.5 649v1M123.5 649v1M124.5 649v1M125.5 649v1M126.5 649v1M127.5 649v1M128.5 648v1M129.5 648v1M130.5 648v1M131.5 648v1M132.5 647v1M133.5 647v1M134.5 647v1M135.5 647v1M136.5 648v1M137.5 649v1M138.5 650v1M139.5 651v1M140.5 652v1M141.5 653v1M142.5 654v1M143.5 655v1M144.5 656v2M145.5 658v1M146.5 659v1M147.5 660v1M148.5 661v1M149.5 662v1M150.5 663v1M151.5 664v1M152.5 665v1M153.5 666v1M154.5 667v1M155.5 668v1M156.5 669v1M157.5 669v1M158.5 670v1M159.5 671v1M160.5 671v1M161.5 671v1M162.5 671v1M163.5 671v1M164.5 671v1M165.5 671v1M166.5 671v1M167.5 671v1M168.5 671v1M169.5 671v1M170.5 670v1M171.5 670v1M172.5 670v1M173.5 670v1M174.5 670v1M175.5 670v1M176.5 669v1M177.5 669v1M178.5 668v1M179.5 668v1M180.5 668v1M181.5 667v1M182.5 667v1M183.5 668v1M184.5 669v2M185.5 671v1M186.5 672v2M187.5 674v1M188.5 675v2M189.5 677v2M190.5 679v1M191.5 680v1M192.5 680v1M193.5 681v1M194.5 681v1M195.5 682v1M196.5 682v1M197.5 683v1M198.5 683v1M199.5 684v1M200.5 684v1M201.5 685v1M202.5 686v1M203.5 686v1M204.5 687v1M205.5 687v1M206.5 688v1M207.5 688v1M208.5 689v1M209.5 689v1M210.5 689v1M211.5 690v1M212.5 690v1M213.5 690v1M214.5 691v1M215.5 691v1M216.5 690v1M217.5 690v1M218.5 690v1M219.5 689v1M220.5 689v1M221.5 688v1M222.5 688v1M223.5 688v1M224.5 688v1M225.5 688v1M226.5 688v1M227.5 688v1M228.5 688v1M229.5 688v1M230.5 689v1M231.5 688v1M232.5 686v2M233.5 685v1M234.5 683v2M235.5 682v1M236.5 681v1M237.5 679v2M238.5 677v2M239.5 675v2M240.5 672v3M241.5 669v3M242.5 666v3M243.5 664v2M244.5 661v3M245.5 658v3M246.5 657v1M247.5 656v1M248.5 656v1M249.5 657v1M250.5 657v1M251.5 657v1M252.5 657v1M253.5 658v1M254.5 658v1M255.5 658v1M256.5 658v1M257.5 658v1M258.5 658v1M259.5 657v1M260.5 657v1M261.5 657v1M262.5 657v1M263.5 657v1M264.5 658v1M265.5 658v1M266.5 659v1M267.5 660v1M268.5 660v1M269.5 661v1M270.5 661v1M271.5 662v1M272.5 662v1M273.5 662v1M274.5 663v1M275.5 663v1M276.5 663v1M277.5 664v1M278.5 664v1M279.5 664v1M280.5 663v1M281.5 662v1M282.5 661v1M283.5 660v1M284.5 659v1M285.5 659v1M286.5 658v1M287.5 656v2M288.5 654v2M289.5 653v1M290.5 651v2M291.5 650v1M292.5 648v2M293.5 646v2M294.5 645v1M295.5 644v1M296.5 644v1M297.5 644v1M298.5 644v1M299.5 644v1M300.5 643v1M301.5 643v1M302.5 643v1M303.5 643v1M304.5 643v1M305.5 643v1M306.5 643v1M307.5 643v1M308.5 643v1M309.5 643v1M310.5 643v1M311.5 643v1M312.5 643v1M313.5 643v1M314.5 644v1M315.5 644v1M316.5 644v1M317.5 644v1M318.5 645v1M319.5 645v1M320.5 645v1M321.5 645v1M322.5 644v1M323.5 644v1M324.5 644v1M325.5 644v1M326.5 644v1M327.5 644v1M328.5 643v1M329.5 643v1M330.5 643v1M331.5 643v1M332.5 643v1M333.5 642v1M334.5 642v1M335.5 643v1M336.5 644v1M337.5 645v1M338.5 646v1M339.5 647v2M340.5 649v1M341.5 650v1M342.5 651v1M343.5 652v1M344.5 651v1M345.5 651v1M346.5 650v1M347.5 650v1M348.5 650v1M349.5 649v1M350.5 649v1M351.5 649v1M352.5 649v1M353.5 650v1M354.5 650v1M355.5 650v1M356.5 651v1M357.5 651v1M358.5 652v1M359.5 652v1M360.5 652v1M361.5 651v1M362.5 651v1M363.5 651v1M364.5 651v1M365.5 651v1M366.5 651v1M367.5 651v1M368.5 651v1M369.5 651v1M370.5 651v1M371.5 651v1M372.5 651v1M373.5 652v1M374.5 652v1M375.5 652v1M376.5 651v1M377.5 651v1M378.5 650v1M379.5 650v1M380.5 650v1M381.5 649v1M382.5 649v1M383.5 649v2M384.5 651v1M385.5 652v1M386.5 653v1M387.5 654v1M388.5 655v1M389.5 656v1M390.5 657v1M391.5 657v1M392.5 657v1M393.5 656v1M394.5 656v1M395.5 655v1M396.5 655v1M397.5 654v1M398.5 654v1M399.5 654v1M400.5 654v1M401.5 653v1M402.5 653v1M403.5 653v1M404.5 653v1M405.5 653v1M406.5 653v1M407.5 654v2M408.5 656v2M409.5 658v3M410.5 661v2M411.5 663v2M412.5 665v2M413.5 667v3M414.5 670v1M415.5 671v1M416.5 671v1M417.5 670v1M418.5 670v1M419.5 670v1M420.5 670v1M421.5 670v1M422.5 670v1M423.5 670v1M424.5 669v1M425.5 669v1M426.5 669v1M427.5 669v1M428.5 668v1M429.5 668v1M430.5 668v1M431.5 667v1M432.5 667v1M433.5 666v1M434.5 666v1M435.5 665v1M436.5 665v1M437.5 664v1M438.5 663v1M439.5 663v1M440.5 663v1M441.5 662v1M442.5 662v1M443.5 662v1M444.5 662v1M445.5 661v1M446.5 661v1M447.5 661v1M448.5 661v1M449.5 662v1M450.5 662v1M451.5 663v1M452.5 663v1M453.5 663v1M454.5 664v1M455.5 664v1M456.5 664v1M457.5 664v1M458.5 663v1M459.5 663v1M460.5 663v1M461.5 663v1M462.5 663v1M463.5 663v1M464.5 662v1M465.5 662v1M466.5 662v1M467.5 661v1M468.5 661v1M469.5 660v1M470.5 660v1M471.5 660v1M472.5 659v1M473.5 659v1M474.5 659v1M475.5 659v1M476.5 658v1M477.5 658v1M478.5 658v1M479.5 659v1M480.5 660v2M481.5 662v1M482.5 663v2M483.5 665v2M484.5 667v1M485.5 668v2M486.5 670v1M487.5 670v1M488.5 669v1M489.5 669v1M490.5 668v1M491.5 667v1M492.5 666v1M493.5 665v1M494.5 664v1M495.5 664v1M496.5 664v1M497.5 663v1M498.5 663v1M499.5 663v1M500.5 663v1M501.5 663v1M502.5 663v1M503.5 663v1M504.5 664v1M505.5 664v1M506.5 665v1M507.5 665v1M508.5 666v1M509.5 666v1M510.5 666v1M511.5 667v1M512.5 667v1M513.5 667v1M514.5 668v1M515.5 668v1M516.5 668v1M517.5 668v1M518.5 669v1M519.5 669v1M520.5 668v1M521.5 668v1M522.5 668v1M523.5 668v1M524.5 667v1M525.5 667v1M526.5 667v1M527.5 667v1M528.5 667v1M529.5 667v1M530.5 667v1M531.5 667v1M532.5 668v1M533.5 668v1M534.5 668v1M535.5 667v1M536.5 666v1M537.5 665v1M538.5 663v2M539.5 662v1M540.5 661v1M541.5 659v2M542.5 658v1M543.5 658v1M544.5 659v1M545.5 660v1M546.5 661v1M547.5 661v1M548.5 662v1M549.5 663v1M550.5 664v1M551.5 664v1M552.5 664v1M553.5 665v1M554.5 665v1M555.5 665v1M556.5 665v1M557.5 665v1M558.5 666v1M559.5 666v1M560.5 665v1M561.5 665v1M562.5 665v1M563.5 665v1M564.5 664v1M565.5 664v1M566.5 664v1M567.5 665v4M568.5 669v3M569.5 672v4M570.5 676v3M571.5 679v3M572.5 682v4M573.5 686v3M574.5 689v2M575.5 691v1M576.5 691v1M577.5 691v1M578.5 691v1M579.5 692v1M580.5 692v1M581.5 692v1M582.5 692v1M583.5 692v1M584.5 691v1M585.5 690v1M586.5 689v1M587.5 688v1M588.5 687v1M589.5 686v1M590.5 685v1M591.5 684v1M592.5 684v1M593.5 683v1M594.5 683v1M595.5 682v1M596.5 682v1M597.5 681v1M598.5 681v1M599.5 681v1M600.5 681v1M601.5 681v1M602.5 681v1M603.5 681v1M604.5 682v1M605.5 682v1M606.5 682v1M607.5 680v2M608.5 679v1M609.5 677v2M610.5 676v1M611.5 674v2M612.5 672v2M613.5 671v1M614.5 670v1M615.5 669v2M616.5 671v1M617.5 672v1M618.5 673v1M619.5 674v2M620.5 676v1M621.5 677v1M622.5 678v1M623.5 679v1M624.5 679v1M625.5 679v1M626.5 679v1M627.5 679v1M628.5 680v1M629.5 680v1M630.5 680v1M631.5 680v1M632.5 680v1M633.5 680v1M634.5 680v1M635.5 680v1M636.5 680v1M637.5 680v1M638.5 680v1M639.5 680v1M640.5 680v1M641.5 679v1M642.5 679v1M643.5 679v1M644.5 679v1M645.5 678v1M646.5 678v1M647.5 678v1M648.5 677v1M649.5 677v1M650.5 677v1M651.5 676v1M652.5 676v1M653.5 675v1M654.5 675v1M655.5 675v1M656.5 676v1M657.5 677v1M658.5 677v1M659.5 678v1M660.5 679v1M661.5 680v1M662.5 681v1M663.5 681v1M664.5 680v1M665.5 679v1M666.5 678v1M667.5 678v1M668.5 677v1M669.5 676v1M670.5 675v1M671.5 675v1M672.5 675v1M673.5 674v1M674.5 674v1M675.5 674v1M676.5 674v1M677.5 673v1M678.5 673v1M679.5 673v1M680.5 673v1M681.5 673v1M682.5 672v1M683.5 672v1M684.5 672v1M685.5 672v1M686.5 671v1M687.5 671v1M688.5 671v1M689.5 671v1M690.5 670v1M691.5 670v1M692.5 670v1M693.5 669v1M694.5 669v1M695.5 669v1M696.5 669v1M697.5 669v1M698.5 669v1M699.5 669v1M700.5 669v1M701.5 669v1M702.5 669v1M703.5 668v1M704.5 666v2M705.5 665v1M706.5 663v2M707.5 662v1M708.5 660v2M709.5 659v1M710.5 657v2M711.5 655v2M712.5 654v1M713.5 652v2M714.5 651v1M715.5 649v2M716.5 648v1M717.5 646v2M718.5 645v1M719.5 645v1M720.5 645v1M721.5 646v1M722.5 646v1M723.5 646v1M724.5 647v1M725.5 647v1M726.5 648v1M727.5 648v1M728.5 648v1M729.5 648v1M730.5 648v1M731.5 648v1M732.5 648v1M733.5 648v1M734.5 648v1M735.5 648v1M736.5 648v1M737.5 649v1M738.5 649v1M739.5 649v1M740.5 649v1M741.5 650v1M742.5 650v1M743.5 650v1M744.5 650v1M745.5 650v1M746.5 650v1M747.5 650v1M748.5 650v1M749.5 650v1M750.5 650v1M751.5 649v1M752.5 649v1M753.5 648v1M754.5 647v1M755.5 646v1M756.5 645v1M757.5 644v1M758.5 643v1M759.5 643v1M760.5 643v1M761.5 643v1M762.5 643v1M763.5 643v1M764.5 644v1M765.5 644v1M766.5 644v1M767.5 644v1M768.5 645v1M769.5 645v1M770.5 645v1M771.5 646v1M772.5 646v1M773.5 646v1M774.5 647v1M775.5 647v1M776.5 647v1M777.5 648v1M778.5 648v1M779.5 648v1M780.5 648v1M781.5 649v1M782.5 649v1M783.5 649v1M784.5 649v1M785.5 650v1M786.5 650v1M787.5 651v1M788.5 651v1M789.5 651v1M790.5 652v1M791.5 652v1M792.5 651v1M793.5 651v1M794.5 651v1M795.5 650v1M796.5 650v1M797.5 650v1M798.5 649v1M799.5 649v1M800.5 649v1M801.5 649v1M802.5 649v1M803.5 648v1M804.5 648v1M805.5 648v1M806.5 648v1M807.5 647v1M808.5 645v2M809.5 644v1M810.5 643v1M811.5 641v2M812.5 640v1M813.5 639v1M814.5 638v1M815.5 637v1M816.5 637v1M817.5 637v1M818.5 638v1M819.5 638v1M820.5 638v1M821.5 638v1M822.5 639v1M823.5 639v1M824.5 639v1M825.5 638v1M826.5 638v1M827.5 638v1M828.5 638v1M829.5 638v1M830.5 638v1M831.5 638v1M832.5 638v1M833.5 639v1M834.5 639v1M835.5 640v1M836.5 641v1M837.5 641v1M838.5 642v1M839.5 642v1M840.5 642v1M841.5 642v1M842.5 642v1M843.5 642v1M844.5 642v1M845.5 642v1M846.5 642v1M847.5 642v1M848.5 642v1M849.5 642v1M850.5 642v1M851.5 642v1M852.5 642v1M853.5 642v1M854.5 642v1M855.5 643v1M856.5 644v2M857.5 646v1M858.5 647v2M859.5 649v1M860.5 650v2M861.5 652v1M862.5 653v1M863.5 654v1M864.5 653v1M865.5 652v1M866.5 651v1M867.5 651v1M868.5 650v1M869.5 649v1M870.5 649v1M871.5 648v1M872.5 648v1M873.5 648v1M874.5 648v1M875.5 647v1M876.5 647v1M877.5 647v1M878.5 647v1M879.5 647v1M880.5 647v1M881.5 648v1M882.5 648v1M883.5 648v1M884.5 649v1M885.5 649v1M886.5 650v1M887.5 650v1M888.5 649v1M889.5 649v1M890.5 649v1M891.5 649v1M892.5 649v1M893.5 649v1M894.5 649v1M895.5 649v1M896.5 649v1M897.5 649v1M898.5 649v1M899.5 650v1M900.5 650v1M901.5 650v1M902.5 650v1M903.5 651v1M904.5 651v1M905.5 652v1M906.5 653v1M907.5 653v1M908.5 654v1M909.5 655v1M910.5 655v1M911.5 655v1M912.5 654v1M913.5 653v1M914.5 652v1M915.5 651v1M916.5 650v1M917.5 649v1M918.5 649v1M919.5 648v1M920.5 648v1M921.5 648v1M922.5 648v1M923.5 647v1M924.5 647v1M925.5 647v1M926.5 647v1M927.5 647v1M928.5 648v1M929.5 649v1M930.5 650v1M931.5 650v1M932.5 651v1M933.5 652v1M934.5 653v1M935.5 653v1M936.5 654v1M937.5 654v1M938.5 655v1M939.5 656v1M940.5 656v1M941.5 657v1M942.5 657v1M943.5 658v1M944.5 658v1M945.5 657v1M946.5 657v1M947.5 657v1M948.5 657v1M949.5 657v1M950.5 657v1M951.5 657v1M952.5 657v1M953.5 657v1M954.5 657v1M955.5 657v1M956.5 657v1M957.5 657v1M958.5 657v1M959.5 657v2M960.5 659v1M961.5 660v2M962.5 662v2M963.5 664v1M964.5 665v2M965.5 667v1M966.5 668v1M967.5 668v1M968.5 667v1M969.5 666v1M970.5 665v1M971.5 664v1M972.5 663v1M973.5 662v1M974.5 661v1M975.5 660v1M976.5 660v1M977.5 660v1M978.5 660v1M979.5 659v1M980.5 659v1M981.5 659v1M982.5 659v1M983.5 659v1M984.5 658v1M985.5 658v1M986.5 658v1M987.5 658v1M988.5 658v1M989.5 658v1M990.5 658v1M991.5 658v1M992.5 658v1M993.5 658v1M994.5 658v1M995.5 658v1M996.5 658v1M997.5 658v1M998.5 658v1M999.5 657v1M1000.5 657v1M1001.5 656v1M1002.5 656v1M1003.5 655v1M1004.5 654v1M1005.5 654v1M1006.5 653v1M1007.5 653v1M1008.5 652v1M1009.5 652v1M1010.5 652v1M1011.5 651v1M1012.5 651v1M1013.5 650v1M1014.5 650v1M1015.5 650v1M1016.5 650v1M1017.5 650v1M1018.5 651v1M1019.5 651v1M1020.5 651v1M1021.5 651v1M1022.5 652v1M1023.5 652v1M1024.5 651v1M1025.5 651v1M1026.5 651v1M1027.5 650v1M1028.5 650v1M1029.5 649v1M1030.5 649v1M1031.5 649v1M1032.5 648v1M1033.5 648v1M1034.5 648v1M1035.5 647v1M1036.5 647v1M1037.5 647v1M1038.5 646v1M1039.5 646v1M1040.5 646v1M1041.5 645v1M1042.5 645v1M1043.5 645v1M1044.5 644v1M1045.5 644v1M1046.5 643v1M1047.5 643v1M1048.5 643v1M1049.5 642v1M1050.5 642v1M1051.5 642v1M1052.5 641v1M1053.5 641v1M1054.5 641v1M1055.5 640v1M1056.5 640v1M1057.5 640v1M1058.5 639v1M1059.5 639v1M1060.5 639v1M1061.5 638v1M1062.5 638v1M1063.5 638v1M1064.5 639v1M1065.5 640v1M1066.5 640v1M1067.5 641v1M1068.5 642v1M1069.5 642v1M1070.5 643v1M1071.5 644v1M1072.5 643v1M1073.5 643v1M1074.5 643v1M1075.5 643v1M1076.5 643v1M1077.5 643v1M1078.5 643v1M1079.5 643v1M1080.5 643v1M1081.5 643v1M1082.5 643v1M1083.5 644v1M1084.5 644v1M1085.5 644v1M1086.5 645v1M1087.5 645v1M1088.5 644v1M1089.5 644v1M1090.5 644v1M1091.5 644v1M1092.5 643v1M1093.5 643v1M1094.5 643v1M1095.5 643v1M1096.5 642v1M1097.5 642v1M1098.5 642v1M1099.5 641v1M1100.5 641v1M1101.5 640v1M1102.5 640v1M1103.5 640v1M1104.5 639v1M1105.5 639v1M1106.5 638v1M1107.5 638v1M1108.5 637v1M1109.5 637v1M1110.5 636v1M1111.5 636v1M1112.5 635v1M1113.5 635v1M1114.5 634v1M1115.5 634v1M1116.5 634v1M1117.5 633v1M1118.5 633v1M1119.5 633v1M1120.5 634v1M1121.5 635v1M1122.5 636v1M1123.5 636v1M1124.5 637v1M1125.5 638v1M1126.5 639v1M1127.5 639v1M1128.5 640v1M1129.5 641v1M1130.5 641v1M1131.5 642v1M1132.5 642v1M1133.5 643v1M1134.5 643v1M1135.5 643v1M1136.5 643v1M1137.5 643v1M1138.5 643v1M1139.5 642v1M1140.5 642v1M1141.5 642v1M1142.5 642v1M1143.5 642v1M1144.5 643v1M1145.5 643v1M1146.5 644v1M1147.5 644v1M1148.5 645v1M1149.5 646v1M1150.5 646v1M1151.5 646v1M1152.5 645v1M1153.5 644v1M1154.5 644v1M1155.5 643v1M1156.5 642v1M1157.5 641v1M1158.5 640v1M1159.5 639v1M1160.5 638v1M1161.5 638v1M1162.5 637v1M1163.5 636v1M1164.5 635v1M1165.5 634v1M1166.5 633v1M1167.5 633v1M1168.5 633v1M1169.5 632v1M1170.5 632v1M1171.5 632v1M1172.5 632v1M1173.5 632v1M1174.5 632v1M1175.5 632v2M1176.5 634v1M1177.5 635v2M1178.5 637v1M1179.5 638v2M1180.5 640v1M1181.5 641v2M1182.5 643v1M1183.5 644v1M1184.5 644v1M1185.5 644v1M1186.5 645v1M1187.5 645v1M1188.5 645v1M1189.5 645v1M1190.5 646v1M1191.5 646v1M1192.5 646v1M1193.5 646v1M1194.5 646v1M1195.5 646v1M1196.5 646v1M1197.5 646v1M1198.5 646v1M1199.5 646v1M1200.5 645v1M1201.5 645v1M1202.5 644v1M1203.5 644v1M1204.5 643v1M1205.5 643v1M1206.5 642v1M1207.5 642v1M1208.5 641v1M1209.5 641v1M1210.5 640v1M1211.5 640v1M1212.5 639v1M1213.5 639v1M1214.5 639v1M1215.5 638v1M1216.5 638v1M1217.5 638v1M1218.5 638v1M1219.5 638v1M1220.5 638v1M1221.5 638v1M1222.5 638v1M1223.5 638v1M1224.5 638v1M1225.5 638v1M1226.5 638v1M1227.5 638v1M1228.5 639v1M1229.5 639v1M1230.5 639v1M1231.5 639v1M1232.5 639v1M1233.5 639v1M1234.5 639v1M1235.5 639v1M1236.5 639v1M1237.5 639v1M1238.5 639v1M1239.5 639v1M1240.5 640v1M1241.5 640v1M1242.5 641v1M1243.5 641v1M1244.5 642v1M1245.5 643v1M1246.5 643v1M1247.5 643v1M1248.5 643v1M1249.5 642v1M1250.5 642v1M1251.5 642v1M1252.5 641v1M1253.5 641v1M1254.5 640v1M1255.5 640v1M1256.5 639v1M1257.5 638v1M1258.5 637v1M1259.5 636v1M1260.5 635v1M1261.5 634v1M1262.5 633v1M1263.5 633v1M1264.5 634v1M1265.5 635v1M1266.5 635v1M1267.5 636v1M1268.5 636v1M1269.5 637v1M1270.5 637v1M1271.5 638v1M1272.5 638v1M1273.5 637v1M1274.5 637v1M1275.5 637v1M1276.5 637v1M1277.5 637v1M1278.5 637v1M1279.5 637v1M1280.5 637v1M1281.5 637v1M1282.5 636v1M1283.5 636v1M1284.5 636v1M1285.5 636v1M1286.5 636v1M1287.5 636v1M1288.5 637v1M1289.5 637v1M1290.5 638v1M1291.5 638v1M1292.5 638v1M1293.5 639v1M1294.5 639v1M1295.5 640v1M1296.5 641v2M1297.5 643v1M1298.5 644v1M1299.5 645v1M1300.5 646v1M1301.5 647v1M1302.5 648v1M1303.5 649v2M1304.5 651v1M1305.5 652v1M1306.5 653v1M1307.5 654v2M1308.5 656v1M1309.5 657v1M1310.5 658v1M1311.5 659v1M1312.5 659v1M1313.5 659v1M1314.5 659v1M1315.5 659v1M1316.5 660v1M1317.5 660v1M1318.5 660v1M1319.5 660v1M1320.5 660v1M1321.5 660v1M1322.5 659v1M1323.5 659v1M1324.5 659v1M1325.5 659v1M1326.5 659v1" stroke="#1e90ff" stroke-width="1" fill="none"/>
<rect x="1676" y="74" width="2" height="1" fill="#000"/>
<rect x="1676" y="123" width="2" height="1" fill="#000"/>
<rect x="1676" y="172" width="2" height="1" fill="#000"/>
<rect x="1676" y="221" width="2" height="1" fill="#000"/>
<rect x="1676" y="270" width="2" height="1" fill="#000"/>
<rect x="1676" y="319" width="2" height="1" fill="#000"/>
<rect x="1676" y="368" width="2" height="1" fill="#000"/>
<rect x="1676" y="417" width="2" height="1" fill="#000"/>
<rect x="1676" y="465" width="2" height="1" fill="#000"/>
<rect x="1676" y="515" width="2" height="1" fill="#000"/>
<rect x="1676" y="538" width="1" height="1" fill="#000"/>
<rect x="1676" y="568" width="1" height="1" fill="#000"/>
<rect x="1676" y="596" width="1" height="1" fill="#000"/>
<rect x="1676" y="601" width="1" height="1" fill="#000"/>
<rect x="1676" y="638" width="1" height="1" fill="#000"/>
<rect x="1676" y="689" width="1" height="1" fill="#000"/>
<rect x="1676" y="726" width="1" height="1" fill="#000"/>
<rect x="6" y="728" width="1" height="3" fill="#000"/>
<rect x="102" y="728" width="1" height="3" fill="#000"/>
<rect x="198" y="728" width="1" height="3" fill="#000"/>
<rect x="294" y="728" width="1" height="3" fill="#000"/>
<rect x="390" y="728" width="1" height="3" fill="#000"/>
<rect x="486" y="728" width="1" height="3" fill="#000"/>
<rect x="582" y="728" width="1" height="3" fill="#000"/>
<rect x="678" y="728" width="1" height="3" fill="#000"/>
<rect x="774" y="728" width="1" height="3" fill="#000"/>
<rect x="870" y="728" width="1" height="3" fill="#000"/>
<rect x="966" y="728" width="1" height="3" fill="#000"/>
<rect x="1062" y="728" width="1" height="3" fill="#000"/>
<rect x="1158" y="728" width="1" height="3" fill="#000"/>
<rect x="1254" y="728" width="1" height="3" fill="#000"/>
</svg>

<div class="pt" style="left:1682px;top:67px">66.630</div>
<div class="pt" style="left:1682px;top:116px">65.940</div>
<div class="pt" style="left:1682px;top:165px">65.240</div>
<div class="pt" style="left:1682px;top:214px">64.540</div>
<div class="pt" style="left:1682px;top:263px">63.850</div>
<div class="pt" style="left:1682px;top:312px">63.150</div>
<div class="pt" style="left:1682px;top:361px">62.460</div>
<div class="pt" style="left:1682px;top:410px">61.760</div>
<div class="pt" style="left:1682px;top:458px">61.070</div>
<div class="pt" style="left:1682px;top:508px">60.370</div>
<div class="pl" style="top:42px;background:#ff0000;color:#fff">67.000</div>
<div class="pl" style="top:111px;background:#000;color:#fff">66.010</div>
<div class="pl" style="top:247px;background:#00ff7f;color:#fff">64.088</div>
<div class="pl" style="top:394px;background:#0000ff;color:#fff">62.000</div>
<div class="pt" style="top:538px">0.6252</div>
<div class="pt" style="top:561px">0.00</div>
<div class="pt" style="top:582px">-0.5705</div>
<div class="pt" style="top:601px">100</div>
<div class="pt" style="top:631px">70</div>
<div class="pt" style="top:682px">30</div>
<div class="pt" style="top:713px">0</div>
<div class="dt" style="left:4px">13 Nov 2019</div>
<div class="dt" style="left:100px">15 Nov 17:00</div>
<div class="dt" style="left:196px">19 Nov 13:00</div>
<div class="dt" style="left:292px">21 Nov 13:00</div>
<div class="dt" style="left:388px">25 Nov 08:00</div>
<div class="dt" style="left:484px">27 Nov 13:00</div>
<div class="dt" style="left:580px">29 Nov 17:00</div>
<div class="dt" style="left:676px">3 Dec 17:00</div>
<div class="dt" style="left:772px">5 Dec 17:00</div>
<div class="dt" style="left:868px">9 Dec 12:00</div>
<div class="dt" style="left:964px">11 Dec 13:00</div>
<div class="dt" style="left:1060px">13 Dec 13:00</div>
<div class="dt" style="left:1156px">17 Dec 09:00</div>
<div class="dt" style="left:1252px">19 Dec 09:00</div>

<div class="tx" style="left:24px;top:44px;letter-spacing:-0.35px">UKOil-,H4</div><div class="tx" style="left:83px;top:44px;letter-spacing:0.4px">66.000 66.030 65.980 66.010</div>
<svg style="position:absolute;left:8px;top:48px" width="12" height="8"><polygon points="1,6 5.5,1.3 10,6" fill="#000"/></svg>
<div class="tx" style="left:10px;top:540px">MACD(12,26,9) 0.2602 0.3730</div>
<div class="tx" style="left:10px;top:603px">RSI(14) 53.5938</div>

<!-- one click trading panel -->
<div id="oct">
 <div style="position:absolute;left:0;top:0;width:283px;height:76px;background:linear-gradient(to bottom,#5252ff 0,#4444ee 20px,#3232dc 30px,#1c1cc8 52px,#0000b0 74px,#0000aa 76px)"></div>
 <div style="position:absolute;left:68px;top:0;width:147px;height:27px;background:#fff"></div>
 <div style="position:absolute;left:141px;top:27px;width:2px;height:49px;background:#fff"></div>
 <!-- spinner -->
 <div style="position:absolute;left:70px;top:0;width:143px;height:25px;box-sizing:border-box;border:1px solid #b4b4b4;background:#fff"></div>
 <div style="position:absolute;left:71px;top:1px;width:23px;height:23px;background:linear-gradient(to bottom,#f4f4f4 0,#ececec 45%,#d8d8d8 50%,#cfcfcf 100%);border-right:1px solid #b4b4b4"></div>
 <div style="position:absolute;left:189px;top:1px;width:23px;height:23px;background:linear-gradient(to bottom,#f4f4f4 0,#ececec 45%,#d8d8d8 50%,#cfcfcf 100%);border-left:1px solid #b4b4b4;box-sizing:border-box"></div>
 <svg style="position:absolute;left:70px;top:0" width="143" height="25"><polygon points="9,11 16,11 12.5,15" fill="#5a6ab8"/><polygon points="127.5,14 134.5,14 131,10" fill="#5a6ab8"/></svg>
 <div style="position:absolute;left:95px;top:4px;width:91px;text-align:right;font-size:14px;line-height:17px;letter-spacing:1px;color:#000">1.00</div>
 <div style="position:absolute;left:0;top:6px;width:68px;text-align:center;font-size:14px;line-height:17px;color:#fff">SELL</div>
 <div style="position:absolute;left:215px;top:6px;width:68px;text-align:center;font-size:14px;line-height:17px;color:#fff">BUY</div>
 <div style="position:absolute;left:4px;top:26.5px;width:60px;height:1px;background:#9898ff"></div>
 <div style="position:absolute;left:219px;top:26.5px;width:60px;height:1px;background:#9898ff"></div>
 <!-- prices -->
 <div style="position:absolute;left:39px;top:51px;font-size:14.5px;font-weight:bold;line-height:16px;color:#fff">66</div>
 <div style="position:absolute;left:61px;top:30px;font-size:41px;line-height:42px;color:#fff;letter-spacing:-2px">01</div>
 <div style="position:absolute;left:110px;top:33px;font-size:14.5px;font-weight:bold;line-height:16px;color:#fff">0</div>
 <div style="position:absolute;left:181px;top:51px;font-size:14.5px;font-weight:bold;line-height:16px;color:#fff">66</div>
 <div style="position:absolute;left:204px;top:30px;font-size:41px;line-height:42px;color:#fff;letter-spacing:-2px">06</div>
 <div style="position:absolute;left:253px;top:33px;font-size:14.5px;font-weight:bold;line-height:16px;color:#fff">0</div>
</div>

<div style="position:absolute;left:1335px;top:299px;font-size:52.5px;line-height:72px;color:#ff2010;white-space:nowrap;letter-spacing:-2.5px;font-family:'Noto Sans CJK SC','Liberation Sans',sans-serif">多空转折点<span style="display:inline-block;font-size:50px;letter-spacing:0;margin-left:1px;position:relative;top:-4px;transform:scaleX(1.09);transform-origin:left center">64</span></div>
</body></html>
